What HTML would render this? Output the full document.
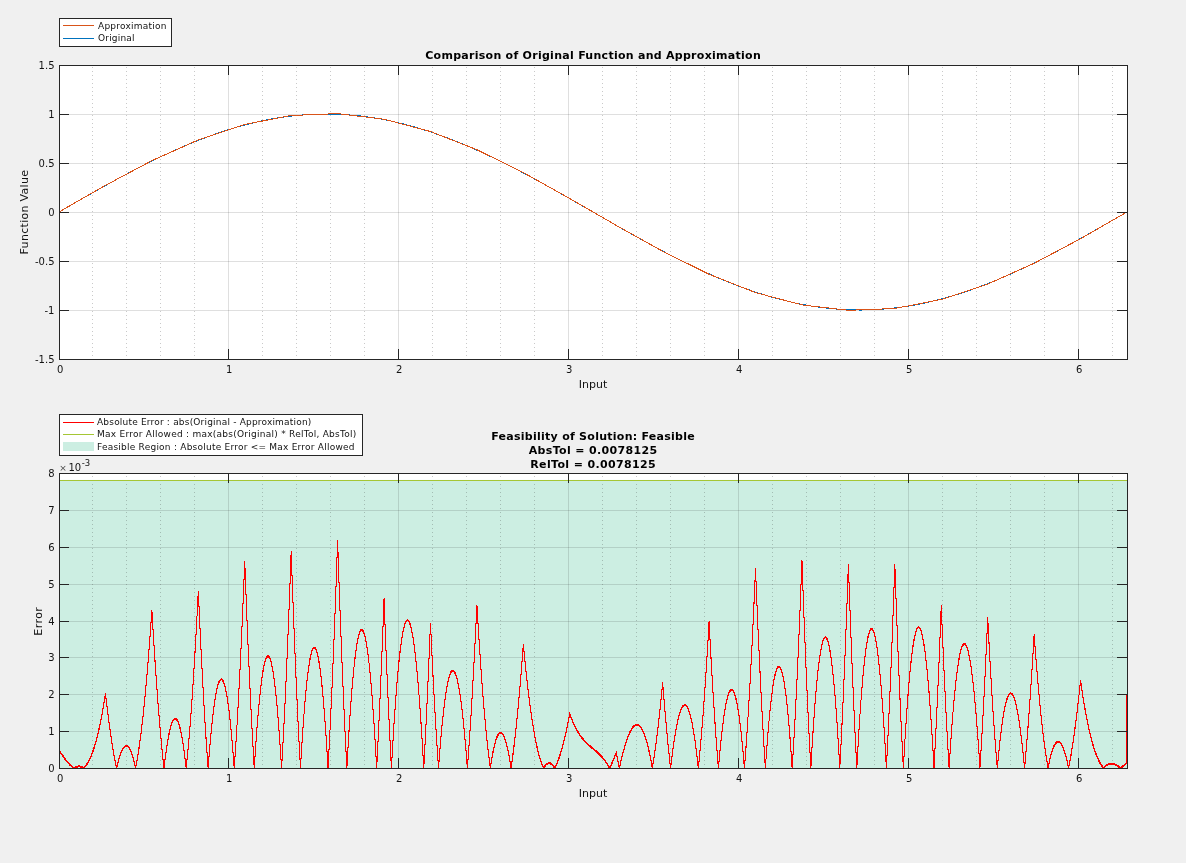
<!DOCTYPE html><html><head><meta charset="utf-8"><title>Function Approximation Comparison</title>
<style>html,body{margin:0;padding:0;background:#f0f0f0;}svg{display:block;will-change:transform;}text{font-family:'DejaVu Sans', 'Liberation Sans', sans-serif;fill:#121212;}</style></head><body>
<svg width="1186" height="863" viewBox="0 0 1186 863">
<rect x="0" y="0" width="1186" height="863" fill="#f0f0f0"/>
<rect x="59" y="65" width="1068" height="294" fill="#ffffff"/>
<g stroke="#262626" stroke-opacity="0.25" stroke-width="1" stroke-dasharray="1 3" shape-rendering="crispEdges"><line x1="92.5" y1="360" x2="92.5" y2="66"/><line x1="126.5" y1="360" x2="126.5" y2="66"/><line x1="160.5" y1="360" x2="160.5" y2="66"/><line x1="194.5" y1="360" x2="194.5" y2="66"/><line x1="262.5" y1="360" x2="262.5" y2="66"/><line x1="296.5" y1="360" x2="296.5" y2="66"/><line x1="330.5" y1="360" x2="330.5" y2="66"/><line x1="364.5" y1="360" x2="364.5" y2="66"/><line x1="432.5" y1="360" x2="432.5" y2="66"/><line x1="466.5" y1="360" x2="466.5" y2="66"/><line x1="500.5" y1="360" x2="500.5" y2="66"/><line x1="534.5" y1="360" x2="534.5" y2="66"/><line x1="602.5" y1="360" x2="602.5" y2="66"/><line x1="636.5" y1="360" x2="636.5" y2="66"/><line x1="670.5" y1="360" x2="670.5" y2="66"/><line x1="704.5" y1="360" x2="704.5" y2="66"/><line x1="772.5" y1="360" x2="772.5" y2="66"/><line x1="806.5" y1="360" x2="806.5" y2="66"/><line x1="840.5" y1="360" x2="840.5" y2="66"/><line x1="874.5" y1="360" x2="874.5" y2="66"/><line x1="942.5" y1="360" x2="942.5" y2="66"/><line x1="976.5" y1="360" x2="976.5" y2="66"/><line x1="1010.5" y1="360" x2="1010.5" y2="66"/><line x1="1044.5" y1="360" x2="1044.5" y2="66"/><line x1="1112.5" y1="360" x2="1112.5" y2="66"/></g>
<g stroke="#262626" stroke-opacity="0.15" stroke-width="1" shape-rendering="crispEdges"><line x1="228.5" y1="66" x2="228.5" y2="359"/><line x1="398.5" y1="66" x2="398.5" y2="359"/><line x1="568.5" y1="66" x2="568.5" y2="359"/><line x1="738.5" y1="66" x2="738.5" y2="359"/><line x1="908.5" y1="66" x2="908.5" y2="359"/><line x1="1078.5" y1="66" x2="1078.5" y2="359"/><line x1="60" y1="114.5" x2="1127" y2="114.5"/><line x1="60" y1="163.5" x2="1127" y2="163.5"/><line x1="60" y1="212.5" x2="1127" y2="212.5"/><line x1="60" y1="261.5" x2="1127" y2="261.5"/><line x1="60" y1="310.5" x2="1127" y2="310.5"/></g>
<polyline fill="none" stroke="#0072BD" stroke-width="1" shape-rendering="crispEdges" points="59.00,212.00 59.76,211.56 60.53,211.12 61.29,210.68 62.05,210.24 62.81,209.80 63.58,209.36 64.34,208.92 65.10,208.48 65.87,208.04 66.63,207.60 67.39,207.16 68.15,206.72 68.92,206.29 69.68,205.85 70.44,205.41 71.21,204.97 71.97,204.53 72.73,204.09 73.49,203.65 74.26,203.22 75.02,202.78 75.78,202.34 76.55,201.90 77.31,201.46 78.07,201.03 78.83,200.59 79.60,200.15 80.36,199.72 81.12,199.28 81.89,198.85 82.65,198.41 83.41,197.97 84.17,197.54 84.94,197.10 85.70,196.67 86.46,196.24 87.23,195.80 87.99,195.37 88.75,194.93 89.51,194.50 90.28,194.07 91.04,193.64 91.80,193.20 92.57,192.77 93.33,192.34 94.09,191.91 94.85,191.48 95.62,191.05 96.38,190.62 97.14,190.19 97.91,189.76 98.67,189.34 99.43,188.91 100.19,188.48 100.96,188.05 101.72,187.63 102.48,187.20 103.25,186.78 104.01,186.35 104.77,185.93 105.53,185.50 106.30,185.08 107.06,184.66 107.82,184.24 108.59,183.82 109.35,183.39 110.11,182.97 110.87,182.55 111.64,182.13 112.40,181.72 113.16,181.30 113.93,180.88 114.69,180.46 115.45,180.05 116.21,179.63 116.98,179.22 117.74,178.80 118.50,178.39 119.27,177.98 120.03,177.57 120.79,177.15 121.55,176.74 122.32,176.33 123.08,175.92 123.84,175.52 124.61,175.11 125.37,174.70 126.13,174.29 126.89,173.89 127.66,173.48 128.42,173.08 129.18,172.68 129.95,172.27 130.71,171.87 131.47,171.47 132.23,171.07 133.00,170.67 133.76,170.27 134.52,169.88 135.29,169.48 136.05,169.08 136.81,168.69 137.57,168.29 138.34,167.90 139.10,167.51 139.86,167.12 140.63,166.73 141.39,166.34 142.15,165.95 142.91,165.56 143.68,165.17 144.44,164.79 145.20,164.40 145.97,164.02 146.73,163.64 147.49,163.25 148.25,162.87 149.02,162.49 149.78,162.11 150.54,161.74 151.31,161.36 152.07,160.98 152.83,160.61 153.59,160.23 154.36,159.86 155.12,159.49 155.88,159.12 156.65,158.75 157.41,158.38 158.17,158.01 158.93,157.65 159.70,157.28 160.46,156.92 161.22,156.55 161.99,156.19 162.75,155.83 163.51,155.47 164.27,155.11 165.04,154.75 165.80,154.40 166.56,154.04 167.33,153.69 168.09,153.33 168.85,152.98 169.61,152.63 170.38,152.28 171.14,151.94 171.90,151.59 172.67,151.24 173.43,150.90 174.19,150.55 174.95,150.21 175.72,149.87 176.48,149.53 177.24,149.19 178.01,148.86 178.77,148.52 179.53,148.19 180.29,147.85 181.06,147.52 181.82,147.19 182.58,146.86 183.35,146.53 184.11,146.21 184.87,145.88 185.63,145.56 186.40,145.24 187.16,144.91 187.92,144.59 188.69,144.28 189.45,143.96 190.21,143.64 190.97,143.33 191.74,143.02 192.50,142.70 193.26,142.39 194.03,142.08 194.79,141.78 195.55,141.47 196.31,141.17 197.08,140.86 197.84,140.56 198.60,140.26 199.37,139.96 200.13,139.66 200.89,139.37 201.65,139.07 202.42,138.78 203.18,138.49 203.94,138.20 204.71,137.91 205.47,137.62 206.23,137.34 206.99,137.05 207.76,136.77 208.52,136.49 209.28,136.21 210.05,135.93 210.81,135.66 211.57,135.38 212.33,135.11 213.10,134.84 213.86,134.56 214.62,134.30 215.39,134.03 216.15,133.76 216.91,133.50 217.67,133.24 218.44,132.98 219.20,132.72 219.96,132.46 220.73,132.20 221.49,131.95 222.25,131.70 223.01,131.44 223.78,131.19 224.54,130.95 225.30,130.70 226.07,130.45 226.83,130.21 227.59,129.97 228.35,129.73 229.12,129.49 229.88,129.26 230.64,129.02 231.41,128.79 232.17,128.56 232.93,128.33 233.69,128.10 234.46,127.87 235.22,127.65 235.98,127.42 236.75,127.20 237.51,126.98 238.27,126.77 239.03,126.55 239.80,126.33 240.56,126.12 241.32,125.91 242.09,125.70 242.85,125.49 243.61,125.29 244.37,125.08 245.14,124.88 245.90,124.68 246.66,124.48 247.43,124.29 248.19,124.09 248.95,123.90 249.71,123.71 250.48,123.52 251.24,123.33 252.00,123.14 252.77,122.96 253.53,122.77 254.29,122.59 255.05,122.41 255.82,122.24 256.58,122.06 257.34,121.89 258.11,121.71 258.87,121.54 259.63,121.38 260.39,121.21 261.16,121.04 261.92,120.88 262.68,120.72 263.45,120.56 264.21,120.40 264.97,120.25 265.73,120.10 266.50,119.94 267.26,119.79 268.02,119.65 268.79,119.50 269.55,119.36 270.31,119.21 271.07,119.07 271.84,118.93 272.60,118.80 273.36,118.66 274.13,118.53 274.89,118.40 275.65,118.27 276.41,118.14 277.18,118.01 277.94,117.89 278.70,117.77 279.47,117.65 280.23,117.53 280.99,117.42 281.75,117.30 282.52,117.19 283.28,117.08 284.04,116.97 284.81,116.86 285.57,116.76 286.33,116.66 287.09,116.56 287.86,116.46 288.62,116.36 289.38,116.27 290.15,116.17 290.91,116.08 291.67,115.99 292.43,115.90 293.20,115.82 293.96,115.74 294.72,115.65 295.49,115.57 296.25,115.50 297.01,115.42 297.77,115.35 298.54,115.28 299.30,115.21 300.06,115.14 300.83,115.07 301.59,115.01 302.35,114.95 303.11,114.89 303.88,114.83 304.64,114.77 305.40,114.72 306.17,114.67 306.93,114.62 307.69,114.57 308.45,114.52 309.22,114.48 309.98,114.43 310.74,114.39 311.51,114.36 312.27,114.32 313.03,114.29 313.79,114.25 314.56,114.22 315.32,114.19 316.08,114.17 316.85,114.14 317.61,114.12 318.37,114.10 319.13,114.08 319.90,114.06 320.66,114.05 321.42,114.04 322.19,114.02 322.95,114.02 323.71,114.01 324.47,114.00 325.24,114.00 326.00,114.00 326.76,114.00 327.53,114.00 328.29,114.01 329.05,114.02 329.81,114.02 330.58,114.04 331.34,114.05 332.10,114.06 332.87,114.08 333.63,114.10 334.39,114.12 335.15,114.14 335.92,114.17 336.68,114.19 337.44,114.22 338.21,114.25 338.97,114.29 339.73,114.32 340.49,114.36 341.26,114.39 342.02,114.43 342.78,114.48 343.55,114.52 344.31,114.57 345.07,114.62 345.83,114.67 346.60,114.72 347.36,114.77 348.12,114.83 348.89,114.89 349.65,114.95 350.41,115.01 351.17,115.07 351.94,115.14 352.70,115.21 353.46,115.28 354.23,115.35 354.99,115.42 355.75,115.50 356.51,115.57 357.28,115.65 358.04,115.74 358.80,115.82 359.57,115.90 360.33,115.99 361.09,116.08 361.85,116.17 362.62,116.27 363.38,116.36 364.14,116.46 364.91,116.56 365.67,116.66 366.43,116.76 367.19,116.86 367.96,116.97 368.72,117.08 369.48,117.19 370.25,117.30 371.01,117.42 371.77,117.53 372.53,117.65 373.30,117.77 374.06,117.89 374.82,118.01 375.59,118.14 376.35,118.27 377.11,118.40 377.87,118.53 378.64,118.66 379.40,118.80 380.16,118.93 380.93,119.07 381.69,119.21 382.45,119.36 383.21,119.50 383.98,119.65 384.74,119.79 385.50,119.94 386.27,120.10 387.03,120.25 387.79,120.40 388.55,120.56 389.32,120.72 390.08,120.88 390.84,121.04 391.61,121.21 392.37,121.38 393.13,121.54 393.89,121.71 394.66,121.89 395.42,122.06 396.18,122.24 396.95,122.41 397.71,122.59 398.47,122.77 399.23,122.96 400.00,123.14 400.76,123.33 401.52,123.52 402.29,123.71 403.05,123.90 403.81,124.09 404.57,124.29 405.34,124.48 406.10,124.68 406.86,124.88 407.63,125.08 408.39,125.29 409.15,125.49 409.91,125.70 410.68,125.91 411.44,126.12 412.20,126.33 412.97,126.55 413.73,126.77 414.49,126.98 415.25,127.20 416.02,127.42 416.78,127.65 417.54,127.87 418.31,128.10 419.07,128.33 419.83,128.56 420.59,128.79 421.36,129.02 422.12,129.26 422.88,129.49 423.65,129.73 424.41,129.97 425.17,130.21 425.93,130.45 426.70,130.70 427.46,130.95 428.22,131.19 428.99,131.44 429.75,131.70 430.51,131.95 431.27,132.20 432.04,132.46 432.80,132.72 433.56,132.98 434.33,133.24 435.09,133.50 435.85,133.76 436.61,134.03 437.38,134.30 438.14,134.56 438.90,134.84 439.67,135.11 440.43,135.38 441.19,135.66 441.95,135.93 442.72,136.21 443.48,136.49 444.24,136.77 445.01,137.05 445.77,137.34 446.53,137.62 447.29,137.91 448.06,138.20 448.82,138.49 449.58,138.78 450.35,139.07 451.11,139.37 451.87,139.66 452.63,139.96 453.40,140.26 454.16,140.56 454.92,140.86 455.69,141.17 456.45,141.47 457.21,141.78 457.97,142.08 458.74,142.39 459.50,142.70 460.26,143.02 461.03,143.33 461.79,143.64 462.55,143.96 463.31,144.28 464.08,144.59 464.84,144.91 465.60,145.24 466.37,145.56 467.13,145.88 467.89,146.21 468.65,146.53 469.42,146.86 470.18,147.19 470.94,147.52 471.71,147.85 472.47,148.19 473.23,148.52 473.99,148.86 474.76,149.19 475.52,149.53 476.28,149.87 477.05,150.21 477.81,150.55 478.57,150.90 479.33,151.24 480.10,151.59 480.86,151.94 481.62,152.28 482.39,152.63 483.15,152.98 483.91,153.33 484.67,153.69 485.44,154.04 486.20,154.40 486.96,154.75 487.73,155.11 488.49,155.47 489.25,155.83 490.01,156.19 490.78,156.55 491.54,156.92 492.30,157.28 493.07,157.65 493.83,158.01 494.59,158.38 495.35,158.75 496.12,159.12 496.88,159.49 497.64,159.86 498.41,160.23 499.17,160.61 499.93,160.98 500.69,161.36 501.46,161.74 502.22,162.11 502.98,162.49 503.75,162.87 504.51,163.25 505.27,163.64 506.03,164.02 506.80,164.40 507.56,164.79 508.32,165.17 509.09,165.56 509.85,165.95 510.61,166.34 511.37,166.73 512.14,167.12 512.90,167.51 513.66,167.90 514.43,168.29 515.19,168.69 515.95,169.08 516.71,169.48 517.48,169.88 518.24,170.27 519.00,170.67 519.77,171.07 520.53,171.47 521.29,171.87 522.05,172.27 522.82,172.68 523.58,173.08 524.34,173.48 525.11,173.89 525.87,174.29 526.63,174.70 527.39,175.11 528.16,175.52 528.92,175.92 529.68,176.33 530.45,176.74 531.21,177.15 531.97,177.57 532.73,177.98 533.50,178.39 534.26,178.80 535.02,179.22 535.79,179.63 536.55,180.05 537.31,180.46 538.07,180.88 538.84,181.30 539.60,181.72 540.36,182.13 541.13,182.55 541.89,182.97 542.65,183.39 543.41,183.82 544.18,184.24 544.94,184.66 545.70,185.08 546.47,185.50 547.23,185.93 547.99,186.35 548.75,186.78 549.52,187.20 550.28,187.63 551.04,188.05 551.81,188.48 552.57,188.91 553.33,189.34 554.09,189.76 554.86,190.19 555.62,190.62 556.38,191.05 557.15,191.48 557.91,191.91 558.67,192.34 559.43,192.77 560.20,193.20 560.96,193.64 561.72,194.07 562.49,194.50 563.25,194.93 564.01,195.37 564.77,195.80 565.54,196.24 566.30,196.67 567.06,197.10 567.83,197.54 568.59,197.97 569.35,198.41 570.11,198.85 570.88,199.28 571.64,199.72 572.40,200.15 573.17,200.59 573.93,201.03 574.69,201.46 575.45,201.90 576.22,202.34 576.98,202.78 577.74,203.22 578.51,203.65 579.27,204.09 580.03,204.53 580.79,204.97 581.56,205.41 582.32,205.85 583.08,206.29 583.85,206.72 584.61,207.16 585.37,207.60 586.13,208.04 586.90,208.48 587.66,208.92 588.42,209.36 589.19,209.80 589.95,210.24 590.71,210.68 591.47,211.12 592.24,211.56 593.00,212.00 593.76,212.44 594.53,212.88 595.29,213.32 596.05,213.76 596.81,214.20 597.58,214.64 598.34,215.08 599.10,215.52 599.87,215.96 600.63,216.40 601.39,216.84 602.15,217.28 602.92,217.71 603.68,218.15 604.44,218.59 605.21,219.03 605.97,219.47 606.73,219.91 607.49,220.35 608.26,220.78 609.02,221.22 609.78,221.66 610.55,222.10 611.31,222.54 612.07,222.97 612.83,223.41 613.60,223.85 614.36,224.28 615.12,224.72 615.89,225.15 616.65,225.59 617.41,226.03 618.17,226.46 618.94,226.90 619.70,227.33 620.46,227.76 621.23,228.20 621.99,228.63 622.75,229.07 623.51,229.50 624.28,229.93 625.04,230.36 625.80,230.80 626.57,231.23 627.33,231.66 628.09,232.09 628.85,232.52 629.62,232.95 630.38,233.38 631.14,233.81 631.91,234.24 632.67,234.66 633.43,235.09 634.19,235.52 634.96,235.95 635.72,236.37 636.48,236.80 637.25,237.22 638.01,237.65 638.77,238.07 639.53,238.50 640.30,238.92 641.06,239.34 641.82,239.76 642.59,240.18 643.35,240.61 644.11,241.03 644.87,241.45 645.64,241.87 646.40,242.28 647.16,242.70 647.93,243.12 648.69,243.54 649.45,243.95 650.21,244.37 650.98,244.78 651.74,245.20 652.50,245.61 653.27,246.02 654.03,246.43 654.79,246.85 655.55,247.26 656.32,247.67 657.08,248.08 657.84,248.48 658.61,248.89 659.37,249.30 660.13,249.71 660.89,250.11 661.66,250.52 662.42,250.92 663.18,251.32 663.95,251.73 664.71,252.13 665.47,252.53 666.23,252.93 667.00,253.33 667.76,253.73 668.52,254.12 669.29,254.52 670.05,254.92 670.81,255.31 671.57,255.71 672.34,256.10 673.10,256.49 673.86,256.88 674.63,257.27 675.39,257.66 676.15,258.05 676.91,258.44 677.68,258.83 678.44,259.21 679.20,259.60 679.97,259.98 680.73,260.36 681.49,260.75 682.25,261.13 683.02,261.51 683.78,261.89 684.54,262.26 685.31,262.64 686.07,263.02 686.83,263.39 687.59,263.77 688.36,264.14 689.12,264.51 689.88,264.88 690.65,265.25 691.41,265.62 692.17,265.99 692.93,266.35 693.70,266.72 694.46,267.08 695.22,267.45 695.99,267.81 696.75,268.17 697.51,268.53 698.27,268.89 699.04,269.25 699.80,269.60 700.56,269.96 701.33,270.31 702.09,270.67 702.85,271.02 703.61,271.37 704.38,271.72 705.14,272.06 705.90,272.41 706.67,272.76 707.43,273.10 708.19,273.45 708.95,273.79 709.72,274.13 710.48,274.47 711.24,274.81 712.01,275.14 712.77,275.48 713.53,275.81 714.29,276.15 715.06,276.48 715.82,276.81 716.58,277.14 717.35,277.47 718.11,277.79 718.87,278.12 719.63,278.44 720.40,278.76 721.16,279.09 721.92,279.41 722.69,279.72 723.45,280.04 724.21,280.36 724.97,280.67 725.74,280.98 726.50,281.30 727.26,281.61 728.03,281.92 728.79,282.22 729.55,282.53 730.31,282.83 731.08,283.14 731.84,283.44 732.60,283.74 733.37,284.04 734.13,284.34 734.89,284.63 735.65,284.93 736.42,285.22 737.18,285.51 737.94,285.80 738.71,286.09 739.47,286.38 740.23,286.66 740.99,286.95 741.76,287.23 742.52,287.51 743.28,287.79 744.05,288.07 744.81,288.34 745.57,288.62 746.33,288.89 747.10,289.16 747.86,289.44 748.62,289.70 749.39,289.97 750.15,290.24 750.91,290.50 751.67,290.76 752.44,291.02 753.20,291.28 753.96,291.54 754.73,291.80 755.49,292.05 756.25,292.30 757.01,292.56 757.78,292.81 758.54,293.05 759.30,293.30 760.07,293.55 760.83,293.79 761.59,294.03 762.35,294.27 763.12,294.51 763.88,294.74 764.64,294.98 765.41,295.21 766.17,295.44 766.93,295.67 767.69,295.90 768.46,296.13 769.22,296.35 769.98,296.58 770.75,296.80 771.51,297.02 772.27,297.23 773.03,297.45 773.80,297.67 774.56,297.88 775.32,298.09 776.09,298.30 776.85,298.51 777.61,298.71 778.37,298.92 779.14,299.12 779.90,299.32 780.66,299.52 781.43,299.71 782.19,299.91 782.95,300.10 783.71,300.29 784.48,300.48 785.24,300.67 786.00,300.86 786.77,301.04 787.53,301.23 788.29,301.41 789.05,301.59 789.82,301.76 790.58,301.94 791.34,302.11 792.11,302.29 792.87,302.46 793.63,302.62 794.39,302.79 795.16,302.96 795.92,303.12 796.68,303.28 797.45,303.44 798.21,303.60 798.97,303.75 799.73,303.90 800.50,304.06 801.26,304.21 802.02,304.35 802.79,304.50 803.55,304.64 804.31,304.79 805.07,304.93 805.84,305.07 806.60,305.20 807.36,305.34 808.13,305.47 808.89,305.60 809.65,305.73 810.41,305.86 811.18,305.99 811.94,306.11 812.70,306.23 813.47,306.35 814.23,306.47 814.99,306.58 815.75,306.70 816.52,306.81 817.28,306.92 818.04,307.03 818.81,307.14 819.57,307.24 820.33,307.34 821.09,307.44 821.86,307.54 822.62,307.64 823.38,307.73 824.15,307.83 824.91,307.92 825.67,308.01 826.43,308.10 827.20,308.18 827.96,308.26 828.72,308.35 829.49,308.43 830.25,308.50 831.01,308.58 831.77,308.65 832.54,308.72 833.30,308.79 834.06,308.86 834.83,308.93 835.59,308.99 836.35,309.05 837.11,309.11 837.88,309.17 838.64,309.23 839.40,309.28 840.17,309.33 840.93,309.38 841.69,309.43 842.45,309.48 843.22,309.52 843.98,309.57 844.74,309.61 845.51,309.64 846.27,309.68 847.03,309.71 847.79,309.75 848.56,309.78 849.32,309.81 850.08,309.83 850.85,309.86 851.61,309.88 852.37,309.90 853.13,309.92 853.90,309.94 854.66,309.95 855.42,309.96 856.19,309.98 856.95,309.98 857.71,309.99 858.47,310.00 859.24,310.00 860.00,310.00 860.76,310.00 861.53,310.00 862.29,309.99 863.05,309.98 863.81,309.98 864.58,309.96 865.34,309.95 866.10,309.94 866.87,309.92 867.63,309.90 868.39,309.88 869.15,309.86 869.92,309.83 870.68,309.81 871.44,309.78 872.21,309.75 872.97,309.71 873.73,309.68 874.49,309.64 875.26,309.61 876.02,309.57 876.78,309.52 877.55,309.48 878.31,309.43 879.07,309.38 879.83,309.33 880.60,309.28 881.36,309.23 882.12,309.17 882.89,309.11 883.65,309.05 884.41,308.99 885.17,308.93 885.94,308.86 886.70,308.79 887.46,308.72 888.23,308.65 888.99,308.58 889.75,308.50 890.51,308.43 891.28,308.35 892.04,308.26 892.80,308.18 893.57,308.10 894.33,308.01 895.09,307.92 895.85,307.83 896.62,307.73 897.38,307.64 898.14,307.54 898.91,307.44 899.67,307.34 900.43,307.24 901.19,307.14 901.96,307.03 902.72,306.92 903.48,306.81 904.25,306.70 905.01,306.58 905.77,306.47 906.53,306.35 907.30,306.23 908.06,306.11 908.82,305.99 909.59,305.86 910.35,305.73 911.11,305.60 911.87,305.47 912.64,305.34 913.40,305.20 914.16,305.07 914.93,304.93 915.69,304.79 916.45,304.64 917.21,304.50 917.98,304.35 918.74,304.21 919.50,304.06 920.27,303.90 921.03,303.75 921.79,303.60 922.55,303.44 923.32,303.28 924.08,303.12 924.84,302.96 925.61,302.79 926.37,302.62 927.13,302.46 927.89,302.29 928.66,302.11 929.42,301.94 930.18,301.76 930.95,301.59 931.71,301.41 932.47,301.23 933.23,301.04 934.00,300.86 934.76,300.67 935.52,300.48 936.29,300.29 937.05,300.10 937.81,299.91 938.57,299.71 939.34,299.52 940.10,299.32 940.86,299.12 941.63,298.92 942.39,298.71 943.15,298.51 943.91,298.30 944.68,298.09 945.44,297.88 946.20,297.67 946.97,297.45 947.73,297.23 948.49,297.02 949.25,296.80 950.02,296.58 950.78,296.35 951.54,296.13 952.31,295.90 953.07,295.67 953.83,295.44 954.59,295.21 955.36,294.98 956.12,294.74 956.88,294.51 957.65,294.27 958.41,294.03 959.17,293.79 959.93,293.55 960.70,293.30 961.46,293.05 962.22,292.81 962.99,292.56 963.75,292.30 964.51,292.05 965.27,291.80 966.04,291.54 966.80,291.28 967.56,291.02 968.33,290.76 969.09,290.50 969.85,290.24 970.61,289.97 971.38,289.70 972.14,289.44 972.90,289.16 973.67,288.89 974.43,288.62 975.19,288.34 975.95,288.07 976.72,287.79 977.48,287.51 978.24,287.23 979.01,286.95 979.77,286.66 980.53,286.38 981.29,286.09 982.06,285.80 982.82,285.51 983.58,285.22 984.35,284.93 985.11,284.63 985.87,284.34 986.63,284.04 987.40,283.74 988.16,283.44 988.92,283.14 989.69,282.83 990.45,282.53 991.21,282.22 991.97,281.92 992.74,281.61 993.50,281.30 994.26,280.98 995.03,280.67 995.79,280.36 996.55,280.04 997.31,279.72 998.08,279.41 998.84,279.09 999.60,278.76 1000.37,278.44 1001.13,278.12 1001.89,277.79 1002.65,277.47 1003.42,277.14 1004.18,276.81 1004.94,276.48 1005.71,276.15 1006.47,275.81 1007.23,275.48 1007.99,275.14 1008.76,274.81 1009.52,274.47 1010.28,274.13 1011.05,273.79 1011.81,273.45 1012.57,273.10 1013.33,272.76 1014.10,272.41 1014.86,272.06 1015.62,271.72 1016.39,271.37 1017.15,271.02 1017.91,270.67 1018.67,270.31 1019.44,269.96 1020.20,269.60 1020.96,269.25 1021.73,268.89 1022.49,268.53 1023.25,268.17 1024.01,267.81 1024.78,267.45 1025.54,267.08 1026.30,266.72 1027.07,266.35 1027.83,265.99 1028.59,265.62 1029.35,265.25 1030.12,264.88 1030.88,264.51 1031.64,264.14 1032.41,263.77 1033.17,263.39 1033.93,263.02 1034.69,262.64 1035.46,262.26 1036.22,261.89 1036.98,261.51 1037.75,261.13 1038.51,260.75 1039.27,260.36 1040.03,259.98 1040.80,259.60 1041.56,259.21 1042.32,258.83 1043.09,258.44 1043.85,258.05 1044.61,257.66 1045.37,257.27 1046.14,256.88 1046.90,256.49 1047.66,256.10 1048.43,255.71 1049.19,255.31 1049.95,254.92 1050.71,254.52 1051.48,254.12 1052.24,253.73 1053.00,253.33 1053.77,252.93 1054.53,252.53 1055.29,252.13 1056.05,251.73 1056.82,251.32 1057.58,250.92 1058.34,250.52 1059.11,250.11 1059.87,249.71 1060.63,249.30 1061.39,248.89 1062.16,248.48 1062.92,248.08 1063.68,247.67 1064.45,247.26 1065.21,246.85 1065.97,246.43 1066.73,246.02 1067.50,245.61 1068.26,245.20 1069.02,244.78 1069.79,244.37 1070.55,243.95 1071.31,243.54 1072.07,243.12 1072.84,242.70 1073.60,242.28 1074.36,241.87 1075.13,241.45 1075.89,241.03 1076.65,240.61 1077.41,240.18 1078.18,239.76 1078.94,239.34 1079.70,238.92 1080.47,238.50 1081.23,238.07 1081.99,237.65 1082.75,237.22 1083.52,236.80 1084.28,236.37 1085.04,235.95 1085.81,235.52 1086.57,235.09 1087.33,234.66 1088.09,234.24 1088.86,233.81 1089.62,233.38 1090.38,232.95 1091.15,232.52 1091.91,232.09 1092.67,231.66 1093.43,231.23 1094.20,230.80 1094.96,230.36 1095.72,229.93 1096.49,229.50 1097.25,229.07 1098.01,228.63 1098.77,228.20 1099.54,227.76 1100.30,227.33 1101.06,226.90 1101.83,226.46 1102.59,226.03 1103.35,225.59 1104.11,225.15 1104.88,224.72 1105.64,224.28 1106.40,223.85 1107.17,223.41 1107.93,222.97 1108.69,222.54 1109.45,222.10 1110.22,221.66 1110.98,221.22 1111.74,220.78 1112.51,220.35 1113.27,219.91 1114.03,219.47 1114.79,219.03 1115.56,218.59 1116.32,218.15 1117.08,217.71 1117.85,217.28 1118.61,216.84 1119.37,216.40 1120.13,215.96 1120.90,215.52 1121.66,215.08 1122.42,214.64 1123.19,214.20 1123.95,213.76 1124.71,213.32 1125.47,212.88 1126.24,212.44 1127.00,212.00"/>
<polyline fill="none" stroke="#D95319" stroke-width="1" shape-rendering="crispEdges" points="59.00,211.95 59.76,211.52 60.53,211.08 61.29,210.64 62.05,210.21 62.81,209.77 63.58,209.33 64.34,208.89 65.10,208.46 65.87,208.02 66.63,207.58 67.39,207.15 68.15,206.71 68.92,206.27 69.68,205.84 70.44,205.40 71.21,204.96 71.97,204.53 72.73,204.09 73.49,203.65 74.26,203.22 75.02,202.78 75.78,202.34 76.55,201.91 77.31,201.47 78.07,201.03 78.83,200.59 79.60,200.16 80.36,199.72 81.12,199.28 81.89,198.85 82.65,198.41 83.41,197.97 84.17,197.54 84.94,197.10 85.70,196.66 86.46,196.23 87.23,195.79 87.99,195.35 88.75,194.92 89.51,194.48 90.28,194.04 91.04,193.61 91.80,193.17 92.57,192.73 93.33,192.29 94.09,191.86 94.85,191.42 95.62,190.98 96.38,190.55 97.14,190.11 97.91,189.67 98.67,189.24 99.43,188.80 100.19,188.36 100.96,187.93 101.72,187.49 102.48,187.05 103.25,186.62 104.01,186.18 104.77,185.74 105.53,185.31 106.30,184.90 107.06,184.50 107.82,184.09 108.59,183.69 109.35,183.28 110.11,182.87 110.87,182.47 111.64,182.06 112.40,181.66 113.16,181.25 113.93,180.85 114.69,180.44 115.45,180.03 116.21,179.63 116.98,179.22 117.74,178.82 118.50,178.41 119.27,178.00 120.03,177.60 120.79,177.19 121.55,176.79 122.32,176.38 123.08,175.98 123.84,175.57 124.61,175.16 125.37,174.76 126.13,174.35 126.89,173.95 127.66,173.54 128.42,173.14 129.18,172.73 129.95,172.32 130.71,171.92 131.47,171.51 132.23,171.11 133.00,170.70 133.76,170.29 134.52,169.89 135.29,169.48 136.05,169.08 136.81,168.67 137.57,168.27 138.34,167.86 139.10,167.45 139.86,167.05 140.63,166.64 141.39,166.24 142.15,165.83 142.91,165.43 143.68,165.02 144.44,164.61 145.20,164.21 145.97,163.80 146.73,163.40 147.49,162.99 148.25,162.58 149.02,162.18 149.78,161.77 150.54,161.37 151.31,160.96 152.07,160.57 152.83,160.23 153.59,159.89 154.36,159.55 155.12,159.21 155.88,158.87 156.65,158.53 157.41,158.19 158.17,157.84 158.93,157.50 159.70,157.16 160.46,156.82 161.22,156.48 161.99,156.14 162.75,155.80 163.51,155.46 164.27,155.12 165.04,154.78 165.80,154.44 166.56,154.09 167.33,153.75 168.09,153.41 168.85,153.07 169.61,152.73 170.38,152.39 171.14,152.05 171.90,151.71 172.67,151.37 173.43,151.03 174.19,150.68 174.95,150.34 175.72,150.00 176.48,149.66 177.24,149.32 178.01,148.98 178.77,148.64 179.53,148.30 180.29,147.96 181.06,147.62 181.82,147.28 182.58,146.93 183.35,146.59 184.11,146.25 184.87,145.91 185.63,145.57 186.40,145.23 187.16,144.89 187.92,144.55 188.69,144.21 189.45,143.87 190.21,143.52 190.97,143.18 191.74,142.84 192.50,142.50 193.26,142.16 194.03,141.82 194.79,141.48 195.55,141.14 196.31,140.80 197.08,140.46 197.84,140.12 198.60,139.81 199.37,139.55 200.13,139.30 200.89,139.05 201.65,138.79 202.42,138.54 203.18,138.28 203.94,138.03 204.71,137.77 205.47,137.52 206.23,137.27 206.99,137.01 207.76,136.76 208.52,136.50 209.28,136.25 210.05,136.00 210.81,135.74 211.57,135.49 212.33,135.23 213.10,134.98 213.86,134.73 214.62,134.47 215.39,134.22 216.15,133.96 216.91,133.71 217.67,133.45 218.44,133.20 219.20,132.95 219.96,132.69 220.73,132.44 221.49,132.18 222.25,131.93 223.01,131.68 223.78,131.42 224.54,131.17 225.30,130.91 226.07,130.66 226.83,130.40 227.59,130.15 228.35,129.90 229.12,129.64 229.88,129.39 230.64,129.13 231.41,128.88 232.17,128.63 232.93,128.37 233.69,128.12 234.46,127.86 235.22,127.61 235.98,127.35 236.75,127.10 237.51,126.85 238.27,126.59 239.03,126.34 239.80,126.08 240.56,125.83 241.32,125.58 242.09,125.32 242.85,125.07 243.61,124.81 244.37,124.56 245.14,124.36 245.90,124.21 246.66,124.07 247.43,123.92 248.19,123.77 248.95,123.62 249.71,123.48 250.48,123.33 251.24,123.18 252.00,123.04 252.77,122.89 253.53,122.74 254.29,122.59 255.05,122.45 255.82,122.30 256.58,122.15 257.34,122.00 258.11,121.86 258.87,121.71 259.63,121.56 260.39,121.42 261.16,121.27 261.92,121.12 262.68,120.97 263.45,120.83 264.21,120.68 264.97,120.53 265.73,120.38 266.50,120.24 267.26,120.09 268.02,119.94 268.79,119.80 269.55,119.65 270.31,119.50 271.07,119.35 271.84,119.21 272.60,119.06 273.36,118.91 274.13,118.76 274.89,118.62 275.65,118.47 276.41,118.32 277.18,118.18 277.94,118.03 278.70,117.88 279.47,117.73 280.23,117.59 280.99,117.44 281.75,117.29 282.52,117.14 283.28,117.00 284.04,116.85 284.81,116.70 285.57,116.56 286.33,116.41 287.09,116.26 287.86,116.11 288.62,115.97 289.38,115.82 290.15,115.67 290.91,115.52 291.67,115.45 292.43,115.42 293.20,115.39 293.96,115.36 294.72,115.33 295.49,115.30 296.25,115.27 297.01,115.24 297.77,115.21 298.54,115.18 299.30,115.15 300.06,115.12 300.83,115.09 301.59,115.06 302.35,115.03 303.11,115.00 303.88,114.97 304.64,114.94 305.40,114.91 306.17,114.88 306.93,114.85 307.69,114.82 308.45,114.79 309.22,114.75 309.98,114.72 310.74,114.69 311.51,114.66 312.27,114.63 313.03,114.60 313.79,114.57 314.56,114.54 315.32,114.51 316.08,114.48 316.85,114.45 317.61,114.42 318.37,114.39 319.13,114.36 319.90,114.33 320.66,114.30 321.42,114.27 322.19,114.24 322.95,114.21 323.71,114.18 324.47,114.15 325.24,114.12 326.00,114.09 326.76,114.06 327.53,114.03 328.29,114.00 329.05,113.96 329.81,113.93 330.58,113.90 331.34,113.87 332.10,113.84 332.87,113.81 333.63,113.78 334.39,113.75 335.15,113.72 335.92,113.69 336.68,113.66 337.44,113.63 338.21,113.70 338.97,113.79 339.73,113.88 340.49,113.97 341.26,114.06 342.02,114.15 342.78,114.25 343.55,114.34 344.31,114.43 345.07,114.52 345.83,114.61 346.60,114.70 347.36,114.80 348.12,114.89 348.89,114.98 349.65,115.07 350.41,115.16 351.17,115.26 351.94,115.35 352.70,115.44 353.46,115.53 354.23,115.62 354.99,115.71 355.75,115.81 356.51,115.90 357.28,115.99 358.04,116.08 358.80,116.17 359.57,116.26 360.33,116.36 361.09,116.45 361.85,116.54 362.62,116.63 363.38,116.72 364.14,116.81 364.91,116.91 365.67,117.00 366.43,117.09 367.19,117.18 367.96,117.27 368.72,117.36 369.48,117.46 370.25,117.55 371.01,117.64 371.77,117.73 372.53,117.82 373.30,117.92 374.06,118.01 374.82,118.10 375.59,118.19 376.35,118.28 377.11,118.37 377.87,118.47 378.64,118.56 379.40,118.65 380.16,118.74 380.93,118.83 381.69,118.92 382.45,119.02 383.21,119.11 383.98,119.20 384.74,119.39 385.50,119.60 386.27,119.80 387.03,120.00 387.79,120.20 388.55,120.41 389.32,120.61 390.08,120.81 390.84,121.02 391.61,121.22 392.37,121.42 393.13,121.62 393.89,121.83 394.66,122.03 395.42,122.23 396.18,122.43 396.95,122.64 397.71,122.84 398.47,123.04 399.23,123.25 400.00,123.45 400.76,123.65 401.52,123.85 402.29,124.06 403.05,124.26 403.81,124.46 404.57,124.67 405.34,124.87 406.10,125.07 406.86,125.27 407.63,125.48 408.39,125.68 409.15,125.88 409.91,126.09 410.68,126.29 411.44,126.49 412.20,126.69 412.97,126.90 413.73,127.10 414.49,127.30 415.25,127.50 416.02,127.71 416.78,127.91 417.54,128.11 418.31,128.32 419.07,128.52 419.83,128.72 420.59,128.92 421.36,129.13 422.12,129.33 422.88,129.53 423.65,129.74 424.41,129.94 425.17,130.14 425.93,130.34 426.70,130.55 427.46,130.75 428.22,130.95 428.99,131.16 429.75,131.36 430.51,131.56 431.27,131.86 432.04,132.16 432.80,132.46 433.56,132.76 434.33,133.06 435.09,133.36 435.85,133.65 436.61,133.95 437.38,134.25 438.14,134.55 438.90,134.85 439.67,135.15 440.43,135.45 441.19,135.74 441.95,136.04 442.72,136.34 443.48,136.64 444.24,136.94 445.01,137.24 445.77,137.53 446.53,137.83 447.29,138.13 448.06,138.43 448.82,138.73 449.58,139.03 450.35,139.33 451.11,139.62 451.87,139.92 452.63,140.22 453.40,140.52 454.16,140.82 454.92,141.12 455.69,141.41 456.45,141.71 457.21,142.01 457.97,142.31 458.74,142.61 459.50,142.91 460.26,143.21 461.03,143.50 461.79,143.80 462.55,144.10 463.31,144.40 464.08,144.70 464.84,145.00 465.60,145.29 466.37,145.59 467.13,145.89 467.89,146.19 468.65,146.49 469.42,146.79 470.18,147.09 470.94,147.38 471.71,147.68 472.47,147.98 473.23,148.28 473.99,148.58 474.76,148.88 475.52,149.18 476.28,149.47 477.05,149.79 477.81,150.16 478.57,150.54 479.33,150.91 480.10,151.29 480.86,151.67 481.62,152.04 482.39,152.42 483.15,152.80 483.91,153.17 484.67,153.55 485.44,153.93 486.20,154.30 486.96,154.68 487.73,155.05 488.49,155.43 489.25,155.81 490.01,156.18 490.78,156.56 491.54,156.94 492.30,157.31 493.07,157.69 493.83,158.07 494.59,158.44 495.35,158.82 496.12,159.19 496.88,159.57 497.64,159.95 498.41,160.32 499.17,160.70 499.93,161.08 500.69,161.45 501.46,161.83 502.22,162.21 502.98,162.58 503.75,162.96 504.51,163.33 505.27,163.71 506.03,164.09 506.80,164.46 507.56,164.84 508.32,165.22 509.09,165.59 509.85,165.97 510.61,166.35 511.37,166.72 512.14,167.10 512.90,167.47 513.66,167.85 514.43,168.23 515.19,168.60 515.95,168.98 516.71,169.36 517.48,169.73 518.24,170.11 519.00,170.48 519.77,170.86 520.53,171.24 521.29,171.61 522.05,171.99 522.82,172.37 523.58,172.76 524.34,173.18 525.11,173.61 525.87,174.03 526.63,174.46 527.39,174.88 528.16,175.31 528.92,175.73 529.68,176.16 530.45,176.58 531.21,177.01 531.97,177.44 532.73,177.86 533.50,178.29 534.26,178.71 535.02,179.14 535.79,179.56 536.55,179.99 537.31,180.41 538.07,180.84 538.84,181.26 539.60,181.69 540.36,182.11 541.13,182.54 541.89,182.96 542.65,183.39 543.41,183.81 544.18,184.24 544.94,184.66 545.70,185.09 546.47,185.51 547.23,185.94 547.99,186.36 548.75,186.79 549.52,187.22 550.28,187.64 551.04,188.07 551.81,188.49 552.57,188.92 553.33,189.34 554.09,189.77 554.86,190.19 555.62,190.62 556.38,191.04 557.15,191.47 557.91,191.89 558.67,192.32 559.43,192.74 560.20,193.17 560.96,193.59 561.72,194.02 562.49,194.44 563.25,194.87 564.01,195.29 564.77,195.72 565.54,196.15 566.30,196.57 567.06,197.00 567.83,197.42 568.59,197.85 569.35,198.27 570.11,198.70 570.88,199.15 571.64,199.59 572.40,200.03 573.17,200.47 573.93,200.91 574.69,201.35 575.45,201.79 576.22,202.24 576.98,202.68 577.74,203.12 578.51,203.56 579.27,204.00 580.03,204.44 580.79,204.88 581.56,205.33 582.32,205.77 583.08,206.21 583.85,206.65 584.61,207.09 585.37,207.53 586.13,207.98 586.90,208.42 587.66,208.86 588.42,209.30 589.19,209.74 589.95,210.18 590.71,210.62 591.47,211.07 592.24,211.51 593.00,211.95 593.76,212.39 594.53,212.83 595.29,213.27 596.05,213.71 596.81,214.16 597.58,214.60 598.34,215.04 599.10,215.48 599.87,215.92 600.63,216.36 601.39,216.81 602.15,217.25 602.92,217.69 603.68,218.13 604.44,218.57 605.21,219.01 605.97,219.45 606.73,219.90 607.49,220.34 608.26,220.78 609.02,221.22 609.78,221.66 610.55,222.10 611.31,222.54 612.07,222.99 612.83,223.43 613.60,223.87 614.36,224.31 615.12,224.75 615.89,225.19 616.65,225.63 617.41,226.05 618.17,226.48 618.94,226.90 619.70,227.33 620.46,227.75 621.23,228.18 621.99,228.60 622.75,229.03 623.51,229.45 624.28,229.88 625.04,230.30 625.80,230.73 626.57,231.15 627.33,231.58 628.09,232.00 628.85,232.43 629.62,232.86 630.38,233.28 631.14,233.71 631.91,234.13 632.67,234.56 633.43,234.98 634.19,235.41 634.96,235.83 635.72,236.26 636.48,236.68 637.25,237.11 638.01,237.53 638.77,237.96 639.53,238.38 640.30,238.81 641.06,239.23 641.82,239.66 642.59,240.08 643.35,240.51 644.11,240.94 644.87,241.36 645.64,241.79 646.40,242.21 647.16,242.64 647.93,243.06 648.69,243.49 649.45,243.91 650.21,244.34 650.98,244.76 651.74,245.19 652.50,245.61 653.27,246.04 654.03,246.46 654.79,246.89 655.55,247.31 656.32,247.74 657.08,248.16 657.84,248.59 658.61,249.01 659.37,249.44 660.13,249.87 660.89,250.29 661.66,250.72 662.42,251.14 663.18,251.53 663.95,251.91 664.71,252.29 665.47,252.66 666.23,253.04 667.00,253.42 667.76,253.80 668.52,254.17 669.29,254.55 670.05,254.93 670.81,255.31 671.57,255.68 672.34,256.06 673.10,256.44 673.86,256.82 674.63,257.19 675.39,257.57 676.15,257.95 676.91,258.32 677.68,258.70 678.44,259.08 679.20,259.46 679.97,259.83 680.73,260.21 681.49,260.59 682.25,260.97 683.02,261.34 683.78,261.72 684.54,262.10 685.31,262.47 686.07,262.85 686.83,263.23 687.59,263.61 688.36,263.98 689.12,264.36 689.88,264.74 690.65,265.12 691.41,265.49 692.17,265.87 692.93,266.25 693.70,266.62 694.46,267.00 695.22,267.38 695.99,267.76 696.75,268.13 697.51,268.51 698.27,268.89 699.04,269.27 699.80,269.64 700.56,270.02 701.33,270.40 702.09,270.77 702.85,271.15 703.61,271.53 704.38,271.91 705.14,272.28 705.90,272.66 706.67,273.04 707.43,273.42 708.19,273.79 708.95,274.17 709.72,274.48 710.48,274.79 711.24,275.09 712.01,275.39 712.77,275.69 713.53,275.99 714.29,276.29 715.06,276.60 715.82,276.90 716.58,277.20 717.35,277.50 718.11,277.80 718.87,278.10 719.63,278.41 720.40,278.71 721.16,279.01 721.92,279.31 722.69,279.61 723.45,279.91 724.21,280.21 724.97,280.52 725.74,280.82 726.50,281.12 727.26,281.42 728.03,281.72 728.79,282.02 729.55,282.33 730.31,282.63 731.08,282.93 731.84,283.23 732.60,283.53 733.37,283.83 734.13,284.14 734.89,284.44 735.65,284.74 736.42,285.04 737.18,285.34 737.94,285.64 738.71,285.95 739.47,286.25 740.23,286.55 740.99,286.85 741.76,287.15 742.52,287.45 743.28,287.75 744.05,288.06 744.81,288.36 745.57,288.66 746.33,288.96 747.10,289.26 747.86,289.56 748.62,289.87 749.39,290.17 750.15,290.47 750.91,290.77 751.67,291.07 752.44,291.37 753.20,291.68 753.96,291.98 754.73,292.28 755.49,292.58 756.25,292.79 757.01,292.99 757.78,293.19 758.54,293.39 759.30,293.59 760.07,293.80 760.83,294.00 761.59,294.20 762.35,294.40 763.12,294.61 763.88,294.81 764.64,295.01 765.41,295.21 766.17,295.41 766.93,295.62 767.69,295.82 768.46,296.02 769.22,296.22 769.98,296.42 770.75,296.63 771.51,296.83 772.27,297.03 773.03,297.23 773.80,297.43 774.56,297.64 775.32,297.84 776.09,298.04 776.85,298.24 777.61,298.44 778.37,298.65 779.14,298.85 779.90,299.05 780.66,299.25 781.43,299.45 782.19,299.66 782.95,299.86 783.71,300.06 784.48,300.26 785.24,300.47 786.00,300.67 786.77,300.87 787.53,301.07 788.29,301.27 789.05,301.48 789.82,301.68 790.58,301.88 791.34,302.08 792.11,302.28 792.87,302.49 793.63,302.69 794.39,302.89 795.16,303.09 795.92,303.29 796.68,303.50 797.45,303.70 798.21,303.90 798.97,304.10 799.73,304.30 800.50,304.51 801.26,304.71 802.02,304.90 802.79,304.99 803.55,305.08 804.31,305.17 805.07,305.26 805.84,305.35 806.60,305.44 807.36,305.52 808.13,305.61 808.89,305.70 809.65,305.79 810.41,305.88 811.18,305.97 811.94,306.06 812.70,306.15 813.47,306.24 814.23,306.33 814.99,306.41 815.75,306.50 816.52,306.59 817.28,306.68 818.04,306.77 818.81,306.86 819.57,306.95 820.33,307.04 821.09,307.13 821.86,307.22 822.62,307.30 823.38,307.39 824.15,307.48 824.91,307.57 825.67,307.66 826.43,307.75 827.20,307.84 827.96,307.93 828.72,308.02 829.49,308.11 830.25,308.20 831.01,308.28 831.77,308.37 832.54,308.46 833.30,308.55 834.06,308.64 834.83,308.73 835.59,308.82 836.35,308.91 837.11,309.00 837.88,309.09 838.64,309.17 839.40,309.26 840.17,309.35 840.93,309.44 841.69,309.53 842.45,309.62 843.22,309.71 843.98,309.80 844.74,309.89 845.51,309.98 846.27,310.06 847.03,310.15 847.79,310.24 848.56,310.31 849.32,310.28 850.08,310.25 850.85,310.22 851.61,310.19 852.37,310.16 853.13,310.13 853.90,310.10 854.66,310.07 855.42,310.04 856.19,310.01 856.95,309.98 857.71,309.95 858.47,309.92 859.24,309.89 860.00,309.86 860.76,309.83 861.53,309.80 862.29,309.77 863.05,309.74 863.81,309.71 864.58,309.68 865.34,309.65 866.10,309.62 866.87,309.59 867.63,309.56 868.39,309.53 869.15,309.50 869.92,309.47 870.68,309.44 871.44,309.41 872.21,309.38 872.97,309.35 873.73,309.32 874.49,309.29 875.26,309.26 876.02,309.23 876.78,309.20 877.55,309.17 878.31,309.14 879.07,309.11 879.83,309.08 880.60,309.05 881.36,309.02 882.12,308.99 882.89,308.96 883.65,308.93 884.41,308.90 885.17,308.87 885.94,308.84 886.70,308.81 887.46,308.78 888.23,308.75 888.99,308.72 889.75,308.69 890.51,308.66 891.28,308.63 892.04,308.60 892.80,308.57 893.57,308.54 894.33,308.51 895.09,308.44 895.85,308.29 896.62,308.14 897.38,307.99 898.14,307.85 898.91,307.70 899.67,307.55 900.43,307.40 901.19,307.25 901.96,307.10 902.72,306.95 903.48,306.80 904.25,306.66 905.01,306.51 905.77,306.36 906.53,306.21 907.30,306.06 908.06,305.91 908.82,305.76 909.59,305.62 910.35,305.47 911.11,305.32 911.87,305.17 912.64,305.02 913.40,304.87 914.16,304.72 914.93,304.58 915.69,304.43 916.45,304.28 917.21,304.13 917.98,303.98 918.74,303.83 919.50,303.68 920.27,303.54 921.03,303.39 921.79,303.24 922.55,303.09 923.32,302.94 924.08,302.79 924.84,302.64 925.61,302.49 926.37,302.35 927.13,302.20 927.89,302.05 928.66,301.90 929.42,301.75 930.18,301.60 930.95,301.45 931.71,301.31 932.47,301.16 933.23,301.01 934.00,300.86 934.76,300.71 935.52,300.56 936.29,300.41 937.05,300.27 937.81,300.12 938.57,299.97 939.34,299.82 940.10,299.67 940.86,299.52 941.63,299.32 942.39,299.07 943.15,298.82 943.91,298.56 944.68,298.31 945.44,298.06 946.20,297.80 946.97,297.55 947.73,297.30 948.49,297.04 949.25,296.79 950.02,296.54 950.78,296.28 951.54,296.03 952.31,295.78 953.07,295.52 953.83,295.27 954.59,295.02 955.36,294.76 956.12,294.51 956.88,294.26 957.65,294.00 958.41,293.75 959.17,293.50 959.93,293.24 960.70,292.99 961.46,292.74 962.22,292.48 962.99,292.23 963.75,291.98 964.51,291.72 965.27,291.47 966.04,291.22 966.80,290.96 967.56,290.71 968.33,290.46 969.09,290.20 969.85,289.95 970.61,289.70 971.38,289.44 972.14,289.19 972.90,288.94 973.67,288.68 974.43,288.43 975.19,288.18 975.95,287.92 976.72,287.67 977.48,287.41 978.24,287.16 979.01,286.91 979.77,286.65 980.53,286.40 981.29,286.15 982.06,285.89 982.82,285.64 983.58,285.39 984.35,285.13 985.11,284.88 985.87,284.63 986.63,284.37 987.40,284.12 988.16,283.81 988.92,283.47 989.69,283.13 990.45,282.79 991.21,282.45 991.97,282.11 992.74,281.77 993.50,281.43 994.26,281.09 995.03,280.75 995.79,280.41 996.55,280.07 997.31,279.72 998.08,279.38 998.84,279.04 999.60,278.70 1000.37,278.36 1001.13,278.02 1001.89,277.68 1002.65,277.34 1003.42,277.00 1004.18,276.66 1004.94,276.32 1005.71,275.97 1006.47,275.63 1007.23,275.29 1007.99,274.95 1008.76,274.61 1009.52,274.27 1010.28,273.93 1011.05,273.59 1011.81,273.25 1012.57,272.91 1013.33,272.57 1014.10,272.23 1014.86,271.88 1015.62,271.54 1016.39,271.20 1017.15,270.86 1017.91,270.52 1018.67,270.18 1019.44,269.84 1020.20,269.50 1020.96,269.16 1021.73,268.82 1022.49,268.48 1023.25,268.14 1024.01,267.79 1024.78,267.45 1025.54,267.11 1026.30,266.77 1027.07,266.43 1027.83,266.09 1028.59,265.75 1029.35,265.41 1030.12,265.07 1030.88,264.73 1031.64,264.39 1032.41,264.05 1033.17,263.70 1033.93,263.36 1034.69,262.98 1035.46,262.57 1036.22,262.17 1036.98,261.76 1037.75,261.36 1038.51,260.96 1039.27,260.55 1040.03,260.15 1040.80,259.74 1041.56,259.34 1042.32,258.93 1043.09,258.53 1043.85,258.13 1044.61,257.72 1045.37,257.32 1046.14,256.91 1046.90,256.51 1047.66,256.11 1048.43,255.70 1049.19,255.30 1049.95,254.89 1050.71,254.49 1051.48,254.08 1052.24,253.68 1053.00,253.28 1053.77,252.87 1054.53,252.47 1055.29,252.06 1056.05,251.66 1056.82,251.25 1057.58,250.85 1058.34,250.45 1059.11,250.04 1059.87,249.64 1060.63,249.23 1061.39,248.83 1062.16,248.43 1062.92,248.02 1063.68,247.62 1064.45,247.21 1065.21,246.81 1065.97,246.40 1066.73,246.00 1067.50,245.60 1068.26,245.19 1069.02,244.79 1069.79,244.38 1070.55,243.98 1071.31,243.58 1072.07,243.17 1072.84,242.77 1073.60,242.36 1074.36,241.96 1075.13,241.55 1075.89,241.15 1076.65,240.75 1077.41,240.34 1078.18,239.94 1078.94,239.53 1079.70,239.13 1080.47,238.73 1081.23,238.29 1081.99,237.85 1082.75,237.42 1083.52,236.98 1084.28,236.54 1085.04,236.10 1085.81,235.66 1086.57,235.23 1087.33,234.79 1088.09,234.35 1088.86,233.91 1089.62,233.47 1090.38,233.04 1091.15,232.60 1091.91,232.16 1092.67,231.72 1093.43,231.28 1094.20,230.85 1094.96,230.41 1095.72,229.97 1096.49,229.53 1097.25,229.09 1098.01,228.66 1098.77,228.22 1099.54,227.78 1100.30,227.34 1101.06,226.90 1101.83,226.47 1102.59,226.03 1103.35,225.59 1104.11,225.15 1104.88,224.72 1105.64,224.28 1106.40,223.84 1107.17,223.40 1107.93,222.96 1108.69,222.53 1109.45,222.09 1110.22,221.65 1110.98,221.21 1111.74,220.77 1112.51,220.34 1113.27,219.90 1114.03,219.46 1114.79,219.02 1115.56,218.58 1116.32,218.15 1117.08,217.71 1117.85,217.27 1118.61,216.83 1119.37,216.39 1120.13,215.96 1120.90,215.52 1121.66,215.08 1122.42,214.64 1123.19,214.20 1123.95,213.77 1124.71,213.33 1125.47,212.89 1126.24,212.45 1127.00,212.01"/>
<g stroke="#262626" stroke-width="1" fill="none" shape-rendering="crispEdges"><rect x="59.5" y="65.5" width="1068" height="294" fill="none"/><line x1="59.5" y1="359" x2="59.5" y2="349"/><line x1="59.5" y1="66" x2="59.5" y2="75"/><line x1="228.5" y1="359" x2="228.5" y2="349"/><line x1="228.5" y1="66" x2="228.5" y2="75"/><line x1="398.5" y1="359" x2="398.5" y2="349"/><line x1="398.5" y1="66" x2="398.5" y2="75"/><line x1="568.5" y1="359" x2="568.5" y2="349"/><line x1="568.5" y1="66" x2="568.5" y2="75"/><line x1="738.5" y1="359" x2="738.5" y2="349"/><line x1="738.5" y1="66" x2="738.5" y2="75"/><line x1="908.5" y1="359" x2="908.5" y2="349"/><line x1="908.5" y1="66" x2="908.5" y2="75"/><line x1="1078.5" y1="359" x2="1078.5" y2="349"/><line x1="1078.5" y1="66" x2="1078.5" y2="75"/><line x1="60" y1="65.5" x2="69" y2="65.5"/><line x1="1127" y1="65.5" x2="1117" y2="65.5"/><line x1="60" y1="114.5" x2="69" y2="114.5"/><line x1="1127" y1="114.5" x2="1117" y2="114.5"/><line x1="60" y1="163.5" x2="69" y2="163.5"/><line x1="1127" y1="163.5" x2="1117" y2="163.5"/><line x1="60" y1="212.5" x2="69" y2="212.5"/><line x1="1127" y1="212.5" x2="1117" y2="212.5"/><line x1="60" y1="261.5" x2="69" y2="261.5"/><line x1="1127" y1="261.5" x2="1117" y2="261.5"/><line x1="60" y1="310.5" x2="69" y2="310.5"/><line x1="1127" y1="310.5" x2="1117" y2="310.5"/><line x1="60" y1="359.5" x2="69" y2="359.5"/><line x1="1127" y1="359.5" x2="1117" y2="359.5"/></g>
<g font-size="10"><text x="60.3" y="372.7" text-anchor="middle">0</text><text x="229.3" y="372.7" text-anchor="middle">1</text><text x="399.3" y="372.7" text-anchor="middle">2</text><text x="569.3" y="372.7" text-anchor="middle">3</text><text x="739.3" y="372.7" text-anchor="middle">4</text><text x="909.3" y="372.7" text-anchor="middle">5</text><text x="1079.3" y="372.7" text-anchor="middle">6</text><text x="54.5" y="69.1" text-anchor="end">1.5</text><text x="54.5" y="118.1" text-anchor="end">1</text><text x="54.5" y="167.1" text-anchor="end">0.5</text><text x="54.5" y="216.1" text-anchor="end">0</text><text x="54.5" y="265.1" text-anchor="end">-0.5</text><text x="54.5" y="314.1" text-anchor="end">-1</text><text x="54.5" y="363.1" text-anchor="end">-1.5</text></g>
<text x="593" y="59" text-anchor="middle" font-size="11" font-weight="bold" fill="#000" style="fill:#000" textLength="335.5" lengthAdjust="spacing">Comparison of Original Function and Approximation</text>
<text x="593" y="387.8" text-anchor="middle" font-size="11">Input</text>
<text transform="translate(28.1,212.2) rotate(-90)" x="0" y="0" text-anchor="middle" font-size="11" textLength="84.5" lengthAdjust="spacing">Function Value</text>
<rect x="59.5" y="18.5" width="112" height="28" fill="#ffffff" stroke="#262626" stroke-width="1" shape-rendering="crispEdges"/>
<line x1="63" y1="25.5" x2="94" y2="25.5" stroke="#D95319" stroke-width="1" shape-rendering="crispEdges"/>
<line x1="63" y1="38.5" x2="94" y2="38.5" stroke="#0072BD" stroke-width="1" shape-rendering="crispEdges"/>
<text x="98" y="29.2" font-size="9" textLength="68.5" lengthAdjust="spacing">Approximation</text>
<text x="98" y="40.7" font-size="9" textLength="36.5" lengthAdjust="spacing">Original</text>
<rect x="59" y="473" width="1068" height="295" fill="#ffffff"/>
<rect x="59" y="479.91" width="1068" height="288.09" fill="#CCEEE2"/>
<g stroke="#262626" stroke-opacity="0.25" stroke-width="1" stroke-dasharray="1 3" shape-rendering="crispEdges"><line x1="92.5" y1="769" x2="92.5" y2="474"/><line x1="126.5" y1="769" x2="126.5" y2="474"/><line x1="160.5" y1="769" x2="160.5" y2="474"/><line x1="194.5" y1="769" x2="194.5" y2="474"/><line x1="262.5" y1="769" x2="262.5" y2="474"/><line x1="296.5" y1="769" x2="296.5" y2="474"/><line x1="330.5" y1="769" x2="330.5" y2="474"/><line x1="364.5" y1="769" x2="364.5" y2="474"/><line x1="432.5" y1="769" x2="432.5" y2="474"/><line x1="466.5" y1="769" x2="466.5" y2="474"/><line x1="500.5" y1="769" x2="500.5" y2="474"/><line x1="534.5" y1="769" x2="534.5" y2="474"/><line x1="602.5" y1="769" x2="602.5" y2="474"/><line x1="636.5" y1="769" x2="636.5" y2="474"/><line x1="670.5" y1="769" x2="670.5" y2="474"/><line x1="704.5" y1="769" x2="704.5" y2="474"/><line x1="772.5" y1="769" x2="772.5" y2="474"/><line x1="806.5" y1="769" x2="806.5" y2="474"/><line x1="840.5" y1="769" x2="840.5" y2="474"/><line x1="874.5" y1="769" x2="874.5" y2="474"/><line x1="942.5" y1="769" x2="942.5" y2="474"/><line x1="976.5" y1="769" x2="976.5" y2="474"/><line x1="1010.5" y1="769" x2="1010.5" y2="474"/><line x1="1044.5" y1="769" x2="1044.5" y2="474"/><line x1="1112.5" y1="769" x2="1112.5" y2="474"/></g>
<g stroke="#262626" stroke-opacity="0.15" stroke-width="1" shape-rendering="crispEdges"><line x1="228.5" y1="474" x2="228.5" y2="768"/><line x1="398.5" y1="474" x2="398.5" y2="768"/><line x1="568.5" y1="474" x2="568.5" y2="768"/><line x1="738.5" y1="474" x2="738.5" y2="768"/><line x1="908.5" y1="474" x2="908.5" y2="768"/><line x1="1078.5" y1="474" x2="1078.5" y2="768"/><line x1="60" y1="510.5" x2="1127" y2="510.5"/><line x1="60" y1="547.5" x2="1127" y2="547.5"/><line x1="60" y1="584.5" x2="1127" y2="584.5"/><line x1="60" y1="621.5" x2="1127" y2="621.5"/><line x1="60" y1="657.5" x2="1127" y2="657.5"/><line x1="60" y1="694.5" x2="1127" y2="694.5"/><line x1="60" y1="731.5" x2="1127" y2="731.5"/></g>
<line x1="59" y1="480.5" x2="1127" y2="480.5" stroke="#A5C634" stroke-width="1.2" shape-rendering="crispEdges"/>
<g fill="none" stroke="#FF0000" stroke-width="1" shape-rendering="crispEdges">
<polyline transform="translate(0,-0.45)" points="59.00,750.30 59.00,750.30 59.45,750.95 59.89,751.60 60.34,752.25 60.78,752.90 61.23,753.55 61.67,754.19 62.12,754.83 62.56,755.46 63.00,756.09 63.45,756.71 63.89,757.33 64.34,757.93 64.78,758.53 65.23,759.13 65.67,759.71 66.12,760.28 66.56,760.84 67.01,761.39 67.45,761.93 67.90,762.46 68.34,762.97 68.79,763.47 69.23,763.96 69.68,764.43 70.12,764.88 70.57,765.32 71.02,765.74 71.46,766.14 71.91,766.52 72.35,766.89 72.80,767.23 73.24,767.55 73.69,767.86 73.91,768.00 74.13,767.86 74.58,767.60 75.02,767.37 75.47,767.16 75.91,766.97 76.35,766.81 76.80,766.67 77.25,766.56 77.69,766.48 78.13,766.42 78.58,766.40 79.03,766.40 79.47,766.43 79.91,766.49 80.36,766.59 80.80,766.71 81.25,766.87 81.69,767.06 82.14,767.28 82.58,767.54 83.03,767.84 83.26,768.00 83.47,767.84 83.92,767.47 84.36,767.07 84.81,766.63 85.25,766.15 85.70,765.63 86.14,765.08 86.59,764.48 87.03,763.84 87.48,763.16 87.92,762.44 88.37,761.68 88.81,760.87 89.26,760.02 89.70,759.12 90.15,758.18 90.59,757.20 91.04,756.16 91.48,755.08 91.93,753.95 92.38,752.77 92.82,751.54 93.27,750.27 93.71,748.94 94.16,747.56 94.60,746.13 95.04,744.64 95.49,743.11 95.94,741.51 96.38,739.87 96.82,738.17 97.27,736.41 97.72,734.60 98.16,732.73 98.61,730.80 99.05,728.82 99.50,726.77 99.94,724.67 100.38,722.50 100.83,720.28 101.28,717.99 101.72,715.64 102.16,713.23 102.61,710.75 103.06,708.21 103.50,705.61 103.94,702.94 104.39,700.20 104.83,697.40 105.28,694.53 105.43,693.51 105.43,693.51 105.72,696.03 106.17,699.84 106.61,703.58 107.06,707.26 107.50,710.86 107.95,714.38 108.40,717.84 108.84,721.23 109.28,724.54 109.73,727.78 110.18,730.94 110.62,734.03 111.06,737.04 111.51,739.98 111.95,742.84 112.40,745.62 112.84,748.33 113.29,750.95 113.73,753.50 114.18,755.97 114.62,758.35 115.07,760.66 115.52,762.88 115.96,765.02 116.41,767.08 116.61,768.00 116.85,766.95 117.30,765.06 117.74,763.26 118.19,761.54 118.63,759.91 119.07,758.36 119.52,756.90 119.97,755.53 120.41,754.25 120.85,753.06 121.30,751.96 121.74,750.95 122.19,750.03 122.63,749.20 123.08,748.46 123.52,747.82 123.97,747.27 124.42,746.81 124.86,746.45 125.30,746.19 125.75,746.02 126.19,745.95 126.64,745.98 127.08,746.10 127.53,746.32 127.97,746.64 128.42,747.06 128.87,747.59 129.31,748.21 129.75,748.93 130.20,749.76 130.64,750.69 131.09,751.72 131.53,752.86 131.98,754.10 132.42,755.44 132.87,756.89 133.31,758.45 133.76,760.12 134.20,761.89 134.65,763.77 135.09,765.76 135.54,767.86 135.57,768.00 135.98,765.93 136.43,763.61 136.88,761.18 137.32,758.63 137.76,755.98 138.21,753.21 138.65,750.33 139.10,747.33 139.54,744.22 139.99,741.00 140.44,737.65 140.88,734.19 141.32,730.62 141.77,726.93 142.22,723.11 142.66,719.18 143.11,715.13 143.55,710.96 144.00,706.67 144.44,702.26 144.88,697.73 145.33,693.07 145.77,688.29 146.22,683.39 146.66,678.37 147.11,673.21 147.56,667.94 148.00,662.54 148.44,657.01 148.89,651.35 149.33,645.57 149.78,639.66 150.22,633.62 150.67,627.45 151.11,621.15 151.56,614.72 151.87,610.18 151.87,610.18 152.00,612.50 152.45,620.04 152.89,627.45 153.34,634.72 153.78,641.87 154.23,648.88 154.67,655.75 155.12,662.49 155.56,669.10 156.01,675.57 156.46,681.90 156.90,688.10 157.34,694.15 157.79,700.07 158.23,705.85 158.68,711.50 159.12,717.00 159.57,722.36 160.01,727.58 160.46,732.66 160.90,737.60 161.35,742.39 161.80,747.04 162.24,751.55 162.69,755.91 163.13,760.13 163.57,764.20 164.00,768.00 164.02,767.87 164.46,764.09 164.91,760.45 165.35,756.97 165.80,753.63 166.25,750.44 166.69,747.40 167.13,744.51 167.58,741.77 168.02,739.18 168.47,736.74 168.91,734.45 169.36,732.32 169.81,730.33 170.25,728.50 170.69,726.83 171.14,725.31 171.58,723.94 172.03,722.73 172.47,721.68 172.92,720.78 173.37,720.04 173.81,719.46 174.25,719.03 174.70,718.76 175.14,718.66 175.59,718.71 176.03,718.92 176.48,719.29 176.93,719.83 177.37,720.52 177.81,721.38 178.26,722.40 178.70,723.58 179.15,724.93 179.59,726.44 180.04,728.11 180.49,729.96 180.93,731.96 181.38,734.13 181.82,736.47 182.26,738.98 182.71,741.65 183.15,744.50 183.60,747.51 184.04,750.69 184.49,754.03 184.94,757.55 185.38,761.24 185.82,765.10 186.15,768.00 186.27,766.86 186.71,762.66 187.16,758.28 187.60,753.73 188.05,749.01 188.50,744.11 188.94,739.04 189.38,733.79 189.83,728.37 190.28,722.77 190.72,716.99 191.16,711.04 191.61,704.91 192.06,698.61 192.50,692.12 192.94,685.46 193.39,678.62 193.83,671.59 194.28,664.39 194.72,657.01 195.17,649.44 195.61,641.70 196.06,633.77 196.50,625.66 196.95,617.37 197.39,608.89 197.84,600.23 198.28,591.39 198.30,591.00 198.30,591.00 198.73,600.58 199.17,610.42 199.62,620.07 200.06,629.54 200.51,638.82 200.95,647.91 201.40,656.82 201.84,665.54 202.29,674.07 202.73,682.41 203.18,690.56 203.62,698.52 204.07,706.29 204.51,713.87 204.96,721.26 205.41,728.46 205.85,735.47 206.29,742.29 206.74,748.91 207.18,755.34 207.63,761.58 208.07,767.62 208.10,768.00 208.52,762.53 208.96,756.88 209.41,751.42 209.85,746.16 210.30,741.09 210.74,736.22 211.19,731.55 211.63,727.07 212.08,722.79 212.53,718.71 212.97,714.83 213.41,711.15 213.86,707.67 214.30,704.38 214.75,701.30 215.19,698.41 215.64,695.73 216.08,693.25 216.53,690.97 216.97,688.89 217.42,687.02 217.86,685.35 218.31,683.88 218.75,682.61 219.20,681.55 219.64,680.70 220.09,680.04 220.53,679.60 220.98,679.36 221.43,679.32 221.87,679.49 222.31,679.87 222.76,680.46 223.21,681.25 223.65,682.25 224.09,683.46 224.54,684.88 224.98,686.51 225.43,688.34 225.88,690.39 226.32,692.64 226.76,695.11 227.21,697.79 227.65,700.68 228.10,703.78 228.54,707.09 228.99,710.62 229.43,714.35 229.88,718.30 230.33,722.47 230.77,726.85 231.22,731.44 231.66,736.24 232.10,741.27 232.55,746.50 233.00,751.95 233.44,757.62 233.88,763.50 234.21,768.00 234.33,766.39 234.78,760.08 235.22,753.54 235.66,746.79 236.11,739.82 236.55,732.63 237.00,725.23 237.44,717.60 237.89,709.76 238.33,701.69 238.78,693.41 239.22,684.90 239.67,676.18 240.12,667.23 240.56,658.07 241.00,648.68 241.45,639.07 241.90,629.24 242.34,619.18 242.78,608.91 243.23,598.41 243.67,587.68 244.12,576.73 244.56,565.56 244.74,561.13 244.74,561.13 245.01,568.45 245.45,580.29 245.90,591.91 246.34,603.30 246.79,614.46 247.23,625.40 247.68,636.12 248.12,646.60 248.57,656.87 249.02,666.90 249.46,676.71 249.91,686.28 250.35,695.64 250.79,704.76 251.24,713.65 251.69,722.32 252.13,730.76 252.57,738.96 253.02,746.94 253.46,754.69 253.91,762.21 254.26,768.00 254.35,766.50 254.80,759.45 255.24,752.62 255.69,746.02 256.13,739.66 256.58,733.53 257.02,727.63 257.47,721.96 257.91,716.52 258.36,711.32 258.81,706.35 259.25,701.61 259.69,697.11 260.14,692.84 260.58,688.81 261.03,685.01 261.48,681.44 261.92,678.11 262.37,675.01 262.81,672.15 263.25,669.52 263.70,667.13 264.14,664.98 264.59,663.06 265.03,661.38 265.48,659.93 265.92,658.72 266.37,657.75 266.81,657.02 267.26,656.52 267.70,656.26 268.15,656.24 268.60,656.46 269.04,656.92 269.49,657.61 269.93,658.54 270.38,659.72 270.82,661.13 271.26,662.78 271.71,664.67 272.15,666.80 272.60,669.18 273.04,671.79 273.49,674.64 273.93,677.73 274.38,681.07 274.82,684.64 275.27,688.46 275.71,692.52 276.16,696.82 276.60,701.36 277.05,706.14 277.50,711.17 277.94,716.44 278.38,721.95 278.83,727.71 279.27,733.70 279.72,739.95 280.16,746.43 280.61,753.16 281.05,760.13 281.50,767.35 281.54,768.00 281.94,761.19 282.39,753.49 282.83,745.54 283.28,737.35 283.72,728.91 284.17,720.23 284.62,711.30 285.06,702.13 285.50,692.71 285.95,683.04 286.39,673.13 286.84,662.98 287.29,652.57 287.73,641.93 288.17,631.03 288.62,619.89 289.06,608.50 289.51,596.87 289.95,584.99 290.40,572.86 290.84,560.48 291.17,551.18 291.17,551.18 291.29,554.55 291.74,567.33 292.18,579.87 292.62,592.16 293.07,604.20 293.51,615.99 293.96,627.53 294.40,638.83 294.85,649.87 295.29,660.67 295.74,671.22 296.18,681.52 296.63,691.58 297.08,701.38 297.52,710.93 297.96,720.24 298.41,729.29 298.85,738.10 299.30,746.66 299.75,754.96 300.19,763.02 300.47,768.00 300.63,765.17 301.08,757.61 301.52,750.31 301.97,743.25 302.41,736.44 302.86,729.89 303.30,723.58 303.75,717.52 304.19,711.72 304.64,706.16 305.08,700.86 305.53,695.80 305.97,691.00 306.42,686.45 306.87,682.15 307.31,678.10 307.75,674.30 308.20,670.76 308.64,667.46 309.09,664.42 309.53,661.63 309.98,659.08 310.42,656.80 310.87,654.76 311.31,652.97 311.76,651.44 312.20,650.16 312.65,649.13 313.10,648.35 313.54,647.82 313.99,647.55 314.43,647.52 314.87,647.75 315.32,648.24 315.76,648.97 316.21,649.96 316.65,651.20 317.10,652.69 317.54,654.43 317.99,656.43 318.44,658.68 318.88,661.18 319.32,663.93 319.77,666.94 320.21,670.20 320.66,673.71 321.10,677.47 321.55,681.49 321.99,685.76 322.44,690.28 322.88,695.06 323.33,700.08 323.77,705.36 324.22,710.90 324.66,716.68 325.11,722.72 325.56,729.01 326.00,735.55 326.44,742.35 326.89,749.40 327.33,756.70 327.78,764.26 328.00,768.00 328.22,763.94 328.67,755.88 329.11,747.56 329.56,739.00 330.00,730.18 330.45,721.11 330.89,711.79 331.34,702.21 331.78,692.38 332.23,682.30 332.67,671.97 333.12,661.38 333.56,650.54 334.01,639.45 334.45,628.11 334.90,616.51 335.35,604.66 335.79,592.56 336.23,580.21 336.68,567.60 337.12,554.74 337.57,541.63 337.61,540.48 337.61,540.48 338.01,552.75 338.46,565.94 338.90,578.87 339.35,591.56 339.79,604.00 340.24,616.18 340.68,628.11 341.13,639.79 341.57,651.22 342.02,662.39 342.46,673.32 342.91,683.99 343.35,694.41 343.80,704.58 344.24,714.50 344.69,724.17 345.13,733.58 345.58,742.75 346.02,751.66 346.47,760.32 346.88,768.00 346.92,767.26 347.36,759.10 347.81,751.19 348.25,743.53 348.69,736.12 349.14,728.97 349.59,722.06 350.03,715.40 350.47,708.99 350.92,702.83 351.37,696.93 351.81,691.27 352.25,685.86 352.70,680.70 353.14,675.79 353.59,671.14 354.03,666.73 354.48,662.57 354.93,658.66 355.37,654.99 355.81,651.58 356.26,648.42 356.70,645.50 357.15,642.83 357.59,640.42 358.04,638.25 358.48,636.33 358.93,634.65 359.38,633.23 359.82,632.05 360.26,631.12 360.71,630.44 361.16,630.00 361.60,629.82 362.04,629.88 362.49,630.18 362.94,630.74 363.38,631.54 363.82,632.58 364.27,633.88 364.71,635.42 365.16,637.20 365.60,639.24 366.05,641.52 366.50,644.04 366.94,646.81 367.38,649.82 367.83,653.09 368.27,656.59 368.72,660.34 369.17,664.34 369.61,668.58 370.05,673.06 370.50,677.79 370.94,682.76 371.39,687.98 371.83,693.44 372.28,699.14 372.72,705.09 373.17,711.28 373.61,717.72 374.06,724.39 374.50,731.31 374.95,738.48 375.39,745.88 375.84,753.53 376.28,761.42 376.65,768.00 376.73,766.45 377.18,758.08 377.62,749.47 378.06,740.61 378.51,731.52 378.95,722.18 379.40,712.61 379.84,702.79 380.29,692.73 380.74,682.44 381.18,671.90 381.62,661.12 382.07,650.11 382.51,638.85 382.96,627.36 383.40,615.62 383.85,603.65 384.04,598.37 384.04,598.38 384.29,605.22 384.74,617.15 385.18,628.85 385.63,640.30 386.07,651.52 386.52,662.50 386.96,673.24 387.41,683.75 387.85,694.02 388.30,704.06 388.75,713.85 389.19,723.42 389.63,732.74 390.08,741.84 390.52,750.69 390.97,759.32 391.41,767.70 391.43,768.00 391.86,760.14 392.31,752.22 392.75,744.54 393.19,737.08 393.64,729.86 394.08,722.88 394.53,716.13 394.97,709.60 395.42,703.32 395.86,697.26 396.31,691.43 396.75,685.84 397.20,680.48 397.64,675.35 398.09,670.44 398.53,665.77 398.98,661.33 399.42,657.12 399.87,653.14 400.31,649.39 400.76,645.87 401.20,642.57 401.65,639.51 402.09,636.67 402.54,634.06 402.98,631.68 403.43,629.52 403.87,627.59 404.32,625.89 404.76,624.42 405.21,623.17 405.65,622.14 406.10,621.34 406.55,620.77 406.99,620.42 407.43,620.30 407.88,620.40 408.32,620.73 408.77,621.28 409.21,622.05 409.66,623.04 410.11,624.26 410.55,625.70 410.99,627.36 411.44,629.25 411.88,631.35 412.33,633.68 412.77,636.23 413.22,639.00 413.66,641.98 414.11,645.19 414.55,648.62 415.00,652.27 415.44,656.13 415.89,660.22 416.34,664.52 416.78,669.04 417.22,673.78 417.67,678.73 418.11,683.91 418.56,689.30 419.00,694.90 419.45,700.72 419.90,706.76 420.34,713.01 420.78,719.47 421.23,726.15 421.67,733.05 422.12,740.16 422.56,747.48 423.01,755.01 423.45,762.76 423.75,768.00 423.90,765.28 424.34,757.11 424.79,748.72 425.24,740.13 425.68,731.32 426.12,722.31 426.57,713.08 427.01,703.65 427.46,694.00 427.90,684.15 428.35,674.08 428.80,663.81 429.24,653.33 429.69,642.65 430.13,631.75 430.48,623.08 430.48,623.08 430.57,625.22 431.02,634.91 431.46,644.40 431.91,653.68 432.35,662.76 432.80,671.63 433.24,680.30 433.69,688.77 434.14,697.03 434.58,705.09 435.02,712.94 435.47,720.59 435.92,728.04 436.36,735.29 436.80,742.34 437.25,749.19 437.69,755.83 438.14,762.28 438.55,768.00 438.58,767.48 439.03,761.43 439.48,755.58 439.92,749.93 440.36,744.48 440.81,739.23 441.25,734.17 441.70,729.31 442.14,724.65 442.59,720.18 443.03,715.91 443.48,711.84 443.93,707.95 444.37,704.27 444.81,700.77 445.26,697.47 445.70,694.37 446.15,691.45 446.59,688.73 447.04,686.20 447.48,683.86 447.93,681.71 448.38,679.76 448.82,677.99 449.26,676.41 449.71,675.02 450.15,673.82 450.60,672.81 451.04,671.99 451.49,671.35 451.93,670.90 452.38,670.64 452.82,670.56 453.27,670.67 453.72,670.96 454.16,671.44 454.60,672.10 455.05,672.95 455.50,673.98 455.94,675.19 456.38,676.58 456.83,678.16 457.27,679.92 457.72,681.86 458.16,683.98 458.61,686.28 459.06,688.76 459.50,691.42 459.94,694.25 460.39,697.27 460.83,700.46 461.28,703.83 461.72,707.38 462.17,711.11 462.62,715.01 463.06,719.08 463.50,723.33 463.95,727.76 464.39,732.35 464.84,737.13 465.28,742.07 465.73,747.19 466.17,752.48 466.62,757.94 467.06,763.57 467.41,768.00 467.51,766.62 467.95,760.65 468.40,754.51 468.84,748.20 469.29,741.72 469.73,735.07 470.18,728.25 470.62,721.27 471.07,714.12 471.51,706.80 471.96,699.32 472.40,691.67 472.85,683.86 473.30,675.89 473.74,667.75 474.18,659.45 474.63,650.98 475.07,642.35 475.52,633.56 475.96,624.61 476.41,615.50 476.86,606.23 476.91,605.01 476.91,605.01 477.30,611.67 477.74,619.17 478.19,626.51 478.63,633.70 479.08,640.73 479.52,647.60 479.97,654.31 480.41,660.87 480.86,667.27 481.30,673.52 481.75,679.62 482.19,685.56 482.64,691.34 483.08,696.98 483.53,702.46 483.97,707.79 484.42,712.97 484.86,718.00 485.31,722.87 485.75,727.60 486.20,732.18 486.65,736.61 487.09,740.90 487.53,745.03 487.98,749.02 488.42,752.86 488.87,756.56 489.31,760.11 489.76,763.51 490.20,766.78 490.38,768.00 490.65,766.11 491.09,763.13 491.54,760.30 491.98,757.61 492.43,755.06 492.88,752.65 493.32,750.39 493.76,748.26 494.21,746.27 494.65,744.42 495.10,742.71 495.54,741.14 495.99,739.70 496.44,738.40 496.88,737.24 497.32,736.21 497.77,735.31 498.21,734.55 498.66,733.93 499.10,733.44 499.55,733.08 499.99,732.85 500.44,732.75 500.89,732.79 501.33,732.95 501.77,733.25 502.22,733.67 502.67,734.22 503.11,734.90 503.55,735.71 504.00,736.65 504.44,737.71 504.89,738.90 505.33,740.21 505.78,741.65 506.23,743.21 506.67,744.89 507.11,746.70 507.56,748.63 508.00,750.68 508.45,752.86 508.89,755.15 509.34,757.56 509.78,760.10 510.23,762.75 510.68,765.52 511.06,768.00 511.12,767.59 511.56,764.59 512.01,761.47 512.45,758.23 512.90,754.88 513.34,751.41 513.79,747.83 514.23,744.13 514.68,740.32 515.12,736.40 515.57,732.37 516.01,728.23 516.46,723.97 516.90,719.61 517.35,715.14 517.79,710.55 518.24,705.86 518.68,701.07 519.13,696.16 519.57,691.15 520.02,686.03 520.47,680.81 520.91,675.48 521.36,670.05 521.80,664.52 522.25,658.88 522.69,653.14 523.13,647.30 523.35,644.47 523.35,644.47 523.58,646.95 524.02,651.64 524.47,656.22 524.91,660.71 525.36,665.10 525.81,669.39 526.25,673.58 526.69,677.68 527.14,681.68 527.59,685.58 528.03,689.39 528.47,693.11 528.92,696.73 529.37,700.26 529.81,703.69 530.25,707.04 530.70,710.29 531.14,713.45 531.59,716.52 532.03,719.51 532.48,722.40 532.92,725.21 533.37,727.93 533.81,730.56 534.26,733.11 534.70,735.57 535.15,737.94 535.60,740.23 536.04,742.44 536.48,744.56 536.93,746.61 537.38,748.56 537.82,750.44 538.26,752.24 538.71,753.96 539.15,755.60 539.60,757.16 540.05,758.64 540.49,760.04 540.93,761.37 541.38,762.62 541.83,763.80 542.27,764.90 542.71,765.92 543.16,766.88 543.61,767.76 543.74,768.00 544.05,767.44 544.49,766.70 544.94,766.04 545.38,765.44 545.83,764.92 546.27,764.46 546.72,764.08 547.16,763.76 547.61,763.51 548.05,763.33 548.50,763.21 548.94,763.16 549.39,763.17 549.84,763.24 550.28,763.38 550.72,763.59 551.17,763.85 551.62,764.18 552.06,764.57 552.50,765.01 552.95,765.52 553.39,766.09 553.84,766.71 554.28,767.39 554.65,768.00 554.73,767.87 555.17,767.07 555.62,766.22 556.06,765.31 556.51,764.35 556.95,763.34 557.40,762.27 557.85,761.15 558.29,759.97 558.73,758.75 559.18,757.47 559.62,756.15 560.07,754.78 560.51,753.35 560.96,751.88 561.40,750.36 561.85,748.80 562.29,747.19 562.74,745.53 563.18,743.83 563.63,742.09 564.07,740.30 564.52,738.47 564.96,736.59 565.41,734.68 565.85,732.72 566.30,730.73 566.74,728.69 567.19,726.62 567.63,724.51 568.08,722.36 568.52,720.17 568.97,717.95 569.41,715.69 569.78,713.79 569.78,713.79 569.86,714.01 570.30,715.26 570.75,716.47 571.19,717.65 571.64,718.79 572.08,719.90 572.53,720.99 572.98,722.04 573.42,723.06 573.86,724.05 574.31,725.02 574.75,725.96 575.20,726.87 575.64,727.75 576.09,728.61 576.53,729.44 576.98,730.25 577.43,731.03 577.87,731.80 578.31,732.54 578.76,733.25 579.21,733.95 579.65,734.62 580.09,735.28 580.54,735.92 580.98,736.53 581.43,737.14 581.88,737.72 582.32,738.28 582.76,738.84 583.21,739.37 583.65,739.89 584.10,740.40 584.54,740.89 584.99,741.37 585.43,741.84 585.88,742.30 586.32,742.75 586.77,743.19 587.22,743.61 587.66,744.03 588.10,744.45 588.55,744.85 589.00,745.25 589.44,745.64 589.88,746.03 590.33,746.41 590.77,746.79 591.22,747.16 591.66,747.53 592.11,747.90 592.55,748.27 593.00,748.64 593.44,749.01 593.89,749.38 594.33,749.75 594.78,750.12 595.22,750.49 595.67,750.87 596.12,751.25 596.56,751.64 597.00,752.03 597.45,752.43 597.89,752.84 598.34,753.25 598.78,753.67 599.23,754.10 599.67,754.53 600.12,754.98 600.56,755.44 601.01,755.91 601.45,756.39 601.90,756.88 602.35,757.39 602.79,757.91 603.23,758.45 603.68,759.00 604.12,759.56 604.57,760.15 605.01,760.75 605.46,761.36 605.90,762.00 606.35,762.66 606.79,763.33 607.24,764.03 607.68,764.75 608.13,765.48 608.57,766.25 609.02,767.03 609.46,767.84 609.55,768.00 609.91,767.33 610.35,766.47 610.80,765.59 611.25,764.68 611.69,763.74 612.13,762.77 612.58,761.78 613.02,760.76 613.47,759.71 613.91,758.62 614.36,757.51 614.80,756.36 615.25,755.19 615.69,753.98 616.14,752.73 616.22,752.51 616.22,752.51 616.59,754.40 617.03,756.65 617.47,758.87 617.92,761.05 618.37,763.19 618.81,765.30 619.25,767.36 619.39,768.00 619.70,766.61 620.14,764.62 620.59,762.67 621.03,760.76 621.48,758.90 621.92,757.07 622.37,755.29 622.81,753.55 623.26,751.86 623.70,750.21 624.15,748.61 624.59,747.05 625.04,745.54 625.49,744.08 625.93,742.66 626.38,741.29 626.82,739.98 627.26,738.71 627.71,737.49 628.15,736.32 628.60,735.21 629.04,734.15 629.49,733.14 629.93,732.19 630.38,731.29 630.82,730.44 631.27,729.65 631.71,728.92 632.16,728.25 632.60,727.63 633.05,727.07 633.49,726.57 633.94,726.13 634.38,725.75 634.83,725.43 635.27,725.17 635.72,724.98 636.16,724.84 636.61,724.77 637.05,724.77 637.50,724.83 637.94,724.95 638.39,725.14 638.83,725.40 639.28,725.73 639.73,726.12 640.17,726.58 640.61,727.11 641.06,727.71 641.50,728.38 641.95,729.13 642.39,729.94 642.84,730.83 643.28,731.79 643.73,732.82 644.17,733.93 644.62,735.11 645.07,736.37 645.51,737.70 645.95,739.11 646.40,740.60 646.84,742.17 647.29,743.82 647.73,745.54 648.18,747.35 648.62,749.23 649.07,751.20 649.51,753.25 649.96,755.38 650.40,757.59 650.85,759.89 651.29,762.27 651.74,764.74 652.18,767.29 652.31,768.00 652.63,766.07 653.07,763.34 653.52,760.53 653.96,757.63 654.41,754.64 654.86,751.56 655.30,748.39 655.75,745.13 656.19,741.78 656.63,738.33 657.08,734.80 657.52,731.17 657.97,727.45 658.41,723.63 658.86,719.72 659.30,715.71 659.75,711.61 660.19,707.41 660.64,703.11 661.08,698.72 661.53,694.22 661.97,689.63 662.42,684.94 662.65,682.45 662.65,682.45 662.87,685.18 663.31,690.82 663.75,696.35 664.20,701.78 664.64,707.11 665.09,712.34 665.53,717.46 665.98,722.48 666.42,727.39 666.87,732.20 667.31,736.90 667.76,741.49 668.21,745.98 668.65,750.36 669.10,754.62 669.54,758.78 669.98,762.83 670.43,766.77 670.57,768.00 670.87,765.40 671.32,761.69 671.76,758.08 672.21,754.59 672.65,751.22 673.10,747.95 673.54,744.81 673.99,741.77 674.44,738.86 674.88,736.06 675.32,733.37 675.77,730.81 676.21,728.36 676.66,726.03 677.10,723.83 677.55,721.74 678.00,719.77 678.44,717.92 678.88,716.20 679.33,714.59 679.77,713.11 680.22,711.76 680.66,710.53 681.11,709.42 681.55,708.43 682.00,707.58 682.44,706.85 682.89,706.24 683.33,705.77 683.78,705.42 684.23,705.20 684.67,705.11 685.12,705.15 685.56,705.32 686.00,705.62 686.45,706.06 686.89,706.62 687.34,707.32 687.78,708.15 688.23,709.11 688.67,710.21 689.12,711.44 689.56,712.81 690.01,714.32 690.46,715.96 690.90,717.74 691.34,719.65 691.79,721.71 692.24,723.90 692.68,726.23 693.12,728.71 693.57,731.32 694.01,734.07 694.46,736.97 694.90,740.01 695.35,743.19 695.79,746.51 696.24,749.97 696.68,753.59 697.13,757.34 697.58,761.24 698.02,765.29 698.31,768.00 698.46,766.52 698.91,762.18 699.35,757.69 699.80,753.05 700.25,748.27 700.69,743.34 701.13,738.25 701.58,733.02 702.02,727.64 702.47,722.10 702.91,716.41 703.36,710.58 703.80,704.58 704.25,698.44 704.69,692.14 705.14,685.69 705.58,679.08 706.03,672.31 706.47,665.39 706.92,658.32 707.37,651.08 707.81,643.69 708.25,636.14 708.70,628.44 709.09,621.61 709.09,621.61 709.14,622.74 709.59,631.33 710.03,639.76 710.48,648.02 710.92,656.13 711.37,664.07 711.81,671.86 712.26,679.48 712.70,686.94 713.15,694.23 713.60,701.36 714.04,708.32 714.48,715.12 714.93,721.76 715.38,728.23 715.82,734.53 716.26,740.66 716.71,746.63 717.15,752.43 717.60,758.05 718.04,763.52 718.42,768.00 718.49,767.19 718.93,762.07 719.38,757.12 719.82,752.34 720.27,747.74 720.72,743.30 721.16,739.04 721.60,734.95 722.05,731.03 722.49,727.29 722.94,723.72 723.38,720.33 723.83,717.11 724.27,714.07 724.72,711.20 725.16,708.51 725.61,706.00 726.05,703.67 726.50,701.51 726.94,699.53 727.39,697.74 727.83,696.12 728.28,694.68 728.72,693.42 729.17,692.35 729.62,691.45 730.06,690.74 730.50,690.21 730.95,689.86 731.39,689.70 731.84,689.72 732.28,689.92 732.73,690.31 733.17,690.88 733.62,691.64 734.06,692.59 734.51,693.72 734.95,695.04 735.40,696.54 735.84,698.24 736.29,700.12 736.74,702.19 737.18,704.45 737.62,706.90 738.07,709.54 738.51,712.37 738.96,715.39 739.41,718.60 739.85,722.01 740.29,725.60 740.74,729.39 741.18,733.38 741.63,737.55 742.07,741.92 742.52,746.48 742.97,751.24 743.41,756.20 743.85,761.34 744.30,766.69 744.41,768.00 744.74,763.77 745.19,758.03 745.63,752.10 746.08,745.96 746.52,739.63 746.97,733.10 747.41,726.37 747.86,719.44 748.30,712.32 748.75,704.99 749.20,697.46 749.64,689.73 750.09,681.80 750.53,673.67 750.97,665.33 751.42,656.80 751.86,648.06 752.31,639.12 752.75,629.97 753.20,620.62 753.64,611.06 754.09,601.30 754.53,591.34 754.98,581.17 755.42,570.79 755.52,568.51 755.52,568.51 755.87,577.30 756.32,588.35 756.76,599.20 757.21,609.84 757.65,620.27 758.09,630.49 758.54,640.50 758.99,650.31 759.43,659.90 759.88,669.29 760.32,678.46 760.76,687.43 761.21,696.18 761.65,704.72 762.10,713.05 762.54,721.17 762.99,729.08 763.43,736.77 763.88,744.25 764.32,751.52 764.77,758.58 765.21,765.41 765.39,768.00 765.66,763.96 766.11,757.55 766.55,751.35 767.00,745.37 767.44,739.61 767.88,734.06 768.33,728.73 768.77,723.62 769.22,718.72 769.66,714.04 770.11,709.58 770.55,705.34 771.00,701.31 771.44,697.51 771.89,693.92 772.33,690.55 772.78,687.40 773.22,684.48 773.67,681.77 774.11,679.28 774.56,677.02 775.00,674.98 775.45,673.15 775.90,671.56 776.34,670.18 776.78,669.02 777.23,668.09 777.67,667.39 778.12,666.90 778.57,666.64 779.01,666.61 779.45,666.79 779.90,667.21 780.34,667.85 780.79,668.71 781.23,669.80 781.68,671.12 782.12,672.66 782.57,674.43 783.01,676.43 783.46,678.65 783.90,681.10 784.35,683.78 784.79,686.69 785.24,689.82 785.69,693.19 786.13,696.78 786.57,700.60 787.02,704.65 787.46,708.93 787.91,713.45 788.36,718.19 788.80,723.16 789.25,728.36 789.69,733.80 790.13,739.46 790.58,745.36 791.02,751.49 791.47,757.85 791.91,764.45 792.15,768.00 792.36,764.72 792.80,757.66 793.25,750.37 793.69,742.84 794.14,735.08 794.58,727.09 795.03,718.86 795.48,710.40 795.92,701.70 796.37,692.77 796.81,683.60 797.25,674.19 797.70,664.55 798.14,654.68 798.59,644.57 799.03,634.22 799.48,623.63 799.92,612.81 800.37,601.75 800.81,590.46 801.26,578.92 801.70,567.15 801.96,560.39 801.96,560.39 802.15,565.93 802.59,578.50 803.04,590.82 803.49,602.91 803.93,614.76 804.38,626.37 804.82,637.74 805.26,648.87 805.71,659.76 806.15,670.41 806.60,680.82 807.04,690.99 807.49,700.92 807.94,710.61 808.38,720.06 808.82,729.26 809.27,738.23 809.71,746.95 810.16,755.44 810.60,763.68 810.84,768.00 811.05,764.33 811.49,756.57 811.94,749.06 812.38,741.79 812.83,734.76 813.27,727.97 813.72,721.43 814.17,715.13 814.61,709.08 815.06,703.27 815.50,697.70 815.94,692.38 816.39,687.30 816.83,682.47 817.28,677.88 817.73,673.54 818.17,669.44 818.61,665.58 819.06,661.97 819.50,658.61 819.95,655.49 820.39,652.62 820.84,649.99 821.28,647.61 821.73,645.48 822.17,643.59 822.62,641.95 823.06,640.56 823.51,639.41 823.96,638.51 824.40,637.85 824.85,637.45 825.29,637.29 825.73,637.38 826.18,637.71 826.62,638.30 827.07,639.13 827.51,640.21 827.96,641.54 828.40,643.11 828.85,644.94 829.29,647.01 829.74,649.33 830.18,651.90 830.63,654.72 831.07,657.79 831.52,661.11 831.96,664.67 832.41,668.49 832.86,672.55 833.30,676.87 833.75,681.43 834.19,686.25 834.63,691.31 835.08,696.62 835.52,702.19 835.97,708.00 836.41,714.07 836.86,720.38 837.30,726.95 837.75,733.76 838.19,740.83 838.64,748.14 839.08,755.71 839.53,763.53 839.78,768.00 839.97,764.40 840.42,756.08 840.86,747.51 841.31,738.69 841.75,729.61 842.20,720.29 842.64,710.71 843.09,700.89 843.54,690.81 843.98,680.48 844.42,669.89 844.87,659.06 845.31,647.98 845.76,636.64 846.20,625.05 846.65,613.21 847.10,601.11 847.54,588.77 847.98,576.17 848.39,564.45 848.39,564.45 848.43,565.59 848.87,578.60 849.32,591.36 849.76,603.86 850.21,616.11 850.65,628.11 851.10,639.85 851.54,651.35 851.99,662.59 852.43,673.58 852.88,684.32 853.33,694.80 853.77,705.03 854.22,715.01 854.66,724.74 855.10,734.21 855.55,743.43 855.99,752.40 856.44,761.11 856.80,768.00 856.88,766.42 857.33,758.21 857.77,750.26 858.22,742.55 858.66,735.10 859.11,727.90 859.55,720.95 860.00,714.26 860.44,707.82 860.89,701.63 861.34,695.69 861.78,690.01 862.22,684.58 862.67,679.40 863.12,674.48 863.56,669.81 864.00,665.39 864.45,661.22 864.89,657.30 865.34,653.64 865.78,650.23 866.23,647.08 866.67,644.17 867.12,641.52 867.56,639.12 868.01,636.98 868.45,635.08 868.90,633.44 869.34,632.05 869.79,630.92 870.23,630.03 870.68,629.40 871.12,629.02 871.57,628.89 872.01,629.02 872.46,629.40 872.91,630.02 873.35,630.90 873.79,632.04 874.24,633.42 874.68,635.06 875.13,636.95 875.57,639.09 876.02,641.48 876.46,644.12 876.91,647.02 877.35,650.16 877.80,653.56 878.24,657.21 878.69,661.11 879.13,665.26 879.58,669.67 880.02,674.32 880.47,679.22 880.91,684.38 881.36,689.79 881.80,695.44 882.25,701.35 882.70,707.51 883.14,713.92 883.58,720.58 884.03,727.49 884.47,734.65 884.92,742.06 885.36,749.72 885.81,757.63 886.25,765.79 886.37,768.00 886.70,761.80 887.14,753.14 887.59,744.23 888.03,735.08 888.48,725.67 888.92,716.01 889.37,706.11 889.81,695.95 890.26,685.55 890.71,674.90 891.15,664.00 891.59,652.85 892.04,641.45 892.49,629.80 892.93,617.91 893.38,605.77 893.82,593.38 894.26,580.74 894.71,567.85 894.83,564.45 894.83,564.45 895.15,573.98 895.60,586.65 896.04,599.07 896.49,611.25 896.93,623.18 897.38,634.87 897.82,646.31 898.27,657.50 898.71,668.44 899.16,679.14 899.61,689.60 900.05,699.80 900.50,709.76 900.94,719.48 901.38,728.95 901.83,738.17 902.27,747.15 902.72,755.89 903.16,764.38 903.36,768.00 903.61,763.37 904.05,755.37 904.50,747.62 904.94,740.10 905.39,732.84 905.83,725.81 906.28,719.03 906.72,712.49 907.17,706.20 907.61,700.15 908.06,694.34 908.50,688.77 908.95,683.45 909.39,678.37 909.84,673.53 910.28,668.93 910.73,664.58 911.17,660.46 911.62,656.59 912.07,652.96 912.51,649.57 912.95,646.42 913.40,643.51 913.84,640.84 914.29,638.41 914.73,636.23 915.18,634.28 915.62,632.57 916.07,631.10 916.51,629.87 916.96,628.88 917.40,628.12 917.85,627.61 918.29,627.33 918.74,627.29 919.19,627.49 919.63,627.93 920.07,628.61 920.52,629.52 920.96,630.67 921.41,632.05 921.86,633.67 922.30,635.53 922.75,637.62 923.19,639.95 923.63,642.52 924.08,645.32 924.52,648.35 924.97,651.62 925.41,655.13 925.86,658.87 926.30,662.84 926.75,667.04 927.19,671.48 927.64,676.16 928.08,681.06 928.53,686.20 928.98,691.57 929.42,697.18 929.87,703.01 930.31,709.08 930.75,715.38 931.20,721.91 931.64,728.67 932.09,735.66 932.53,742.88 932.98,750.33 933.42,758.01 933.87,765.92 933.98,768.00 934.31,761.94 934.76,753.57 935.20,744.97 935.65,736.14 936.09,727.09 936.54,717.81 936.99,708.30 937.43,698.56 937.87,688.60 938.32,678.41 938.76,667.99 939.21,657.35 939.65,646.48 940.10,635.38 940.54,624.06 940.99,612.52 941.26,605.38 941.26,605.38 941.43,609.75 941.88,620.75 942.32,631.53 942.77,642.08 943.21,652.41 943.66,662.52 944.10,672.40 944.55,682.07 944.99,691.51 945.44,700.73 945.88,709.72 946.33,718.50 946.77,727.05 947.22,735.39 947.67,743.50 948.11,751.40 948.55,759.07 949.00,766.53 949.09,768.00 949.44,762.24 949.89,755.22 950.33,748.42 950.78,741.84 951.23,735.47 951.67,729.32 952.11,723.39 952.56,717.68 953.00,712.18 953.45,706.90 953.89,701.83 954.34,696.98 954.78,692.34 955.23,687.92 955.67,683.71 956.12,679.72 956.56,675.94 957.01,672.37 957.46,669.01 957.90,665.87 958.35,662.94 958.79,660.22 959.23,657.71 959.68,655.42 960.12,653.33 960.57,651.45 961.01,649.79 961.46,648.33 961.90,647.08 962.35,646.04 962.79,645.21 963.24,644.59 963.68,644.17 964.13,643.96 964.57,643.96 965.02,644.16 965.46,644.57 965.91,645.19 966.35,646.01 966.80,647.04 967.25,648.27 967.69,649.70 968.13,651.34 968.58,653.18 969.02,655.23 969.47,657.47 969.91,659.92 970.36,662.57 970.80,665.43 971.25,668.48 971.69,671.73 972.14,675.19 972.58,678.84 973.03,682.69 973.47,686.74 973.92,690.99 974.36,695.44 974.81,700.09 975.25,704.93 975.70,709.97 976.14,715.21 976.59,720.64 977.04,726.27 977.48,732.09 977.92,738.11 978.37,744.32 978.81,750.73 979.26,757.32 979.70,764.12 979.95,768.00 980.15,764.90 980.60,757.72 981.04,750.35 981.48,742.79 981.93,735.04 982.37,727.10 982.82,718.97 983.26,710.65 983.71,702.14 984.15,693.44 984.60,684.55 985.04,675.47 985.49,666.21 985.93,656.76 986.38,647.13 986.83,637.30 987.27,627.30 987.70,617.55 987.70,617.55 987.72,617.94 988.16,626.76 988.60,635.39 989.05,643.84 989.49,652.11 989.94,660.20 990.38,668.10 990.83,675.82 991.27,683.36 991.72,690.72 992.16,697.90 992.61,704.89 993.05,711.71 993.50,718.35 993.94,724.81 994.39,731.09 994.84,737.20 995.28,743.12 995.72,748.87 996.17,754.45 996.62,759.84 997.06,765.07 997.32,768.00 997.50,765.89 997.95,761.01 998.39,756.31 998.84,751.79 999.28,747.44 999.73,743.26 1000.17,739.25 1000.62,735.41 1001.06,731.75 1001.51,728.25 1001.95,724.93 1002.40,721.77 1002.84,718.79 1003.29,715.97 1003.73,713.32 1004.18,710.84 1004.62,708.53 1005.07,706.38 1005.51,704.40 1005.96,702.58 1006.40,700.93 1006.85,699.44 1007.29,698.12 1007.74,696.96 1008.18,695.97 1008.63,695.14 1009.07,694.46 1009.52,693.96 1009.96,693.61 1010.41,693.42 1010.85,693.39 1011.30,693.53 1011.74,693.82 1012.19,694.27 1012.63,694.88 1013.08,695.64 1013.52,696.56 1013.97,697.64 1014.41,698.88 1014.86,700.27 1015.30,701.81 1015.75,703.51 1016.20,705.37 1016.64,707.37 1017.08,709.53 1017.53,711.85 1017.97,714.31 1018.42,716.93 1018.86,719.69 1019.31,722.61 1019.75,725.67 1020.20,728.89 1020.64,732.25 1021.09,735.76 1021.53,739.42 1021.98,743.23 1022.42,747.18 1022.87,751.27 1023.31,755.52 1023.76,759.91 1024.20,764.44 1024.55,768.00 1024.65,766.89 1025.09,762.07 1025.54,757.11 1025.99,752.00 1026.43,746.76 1026.88,741.37 1027.32,735.84 1027.76,730.18 1028.21,724.37 1028.65,718.43 1029.10,712.34 1029.55,706.12 1029.99,699.77 1030.43,693.27 1030.88,686.64 1031.32,679.88 1031.77,672.98 1032.21,665.94 1032.66,658.77 1033.11,651.47 1033.55,644.04 1033.99,636.47 1034.13,634.14 1034.13,634.14 1034.44,638.45 1034.88,644.52 1035.33,650.47 1035.78,656.28 1036.22,661.97 1036.66,667.53 1037.11,672.96 1037.55,678.26 1038.00,683.43 1038.44,688.48 1038.89,693.40 1039.34,698.20 1039.78,702.87 1040.22,707.42 1040.67,711.85 1041.11,716.15 1041.56,720.33 1042.00,724.39 1042.45,728.33 1042.89,732.14 1043.34,735.84 1043.78,739.42 1044.23,742.87 1044.67,746.21 1045.12,749.44 1045.57,752.54 1046.01,755.53 1046.45,758.40 1046.90,761.16 1047.34,763.80 1047.79,766.33 1048.10,768.00 1048.23,767.25 1048.68,764.95 1049.12,762.76 1049.57,760.68 1050.01,758.72 1050.46,756.86 1050.90,755.11 1051.35,753.48 1051.80,751.95 1052.24,750.53 1052.68,749.22 1053.13,748.01 1053.57,746.92 1054.02,745.92 1054.46,745.03 1054.91,744.25 1055.36,743.57 1055.80,743.00 1056.24,742.52 1056.69,742.15 1057.13,741.88 1057.58,741.72 1058.02,741.65 1058.47,741.68 1058.91,741.81 1059.36,742.04 1059.80,742.37 1060.25,742.80 1060.69,743.32 1061.14,743.93 1061.59,744.65 1062.03,745.46 1062.47,746.36 1062.92,747.36 1063.36,748.44 1063.81,749.63 1064.25,750.90 1064.70,752.26 1065.14,753.72 1065.59,755.26 1066.03,756.90 1066.48,758.62 1066.92,760.43 1067.37,762.33 1067.81,764.32 1068.26,766.39 1068.59,768.00 1068.70,767.45 1069.15,765.21 1069.59,762.88 1070.04,760.47 1070.48,757.98 1070.93,755.40 1071.38,752.74 1071.82,750.00 1072.26,747.18 1072.71,744.28 1073.15,741.31 1073.60,738.25 1074.04,735.11 1074.49,731.90 1074.93,728.61 1075.38,725.24 1075.82,721.80 1076.27,718.28 1076.71,714.69 1077.16,711.02 1077.60,707.29 1078.05,703.48 1078.49,699.59 1078.94,695.64 1079.38,691.62 1079.83,687.52 1080.28,683.36 1080.57,680.61 1080.57,680.61 1080.72,681.70 1081.16,684.81 1081.61,687.86 1082.05,690.83 1082.50,693.75 1082.94,696.59 1083.39,699.37 1083.83,702.09 1084.28,704.74 1084.72,707.33 1085.17,709.86 1085.62,712.32 1086.06,714.73 1086.50,717.07 1086.95,719.36 1087.39,721.58 1087.84,723.75 1088.28,725.86 1088.73,727.92 1089.17,729.91 1089.62,731.85 1090.07,733.74 1090.51,735.57 1090.96,737.35 1091.40,739.07 1091.85,740.74 1092.29,742.36 1092.73,743.93 1093.18,745.45 1093.62,746.92 1094.07,748.34 1094.51,749.71 1094.96,751.03 1095.40,752.30 1095.85,753.53 1096.29,754.71 1096.74,755.85 1097.18,756.94 1097.63,757.99 1098.07,758.99 1098.52,759.95 1098.96,760.87 1099.41,761.75 1099.86,762.59 1100.30,763.38 1100.75,764.14 1101.19,764.86 1101.63,765.54 1102.08,766.18 1102.52,766.79 1102.97,767.36 1103.41,767.89 1103.51,768.00 1103.86,767.61 1104.31,767.15 1104.75,766.72 1105.19,766.32 1105.64,765.95 1106.08,765.62 1106.53,765.32 1106.97,765.04 1107.42,764.80 1107.87,764.59 1108.31,764.40 1108.75,764.24 1109.20,764.11 1109.64,764.01 1110.09,763.93 1110.54,763.88 1110.98,763.85 1111.42,763.85 1111.87,763.86 1112.31,763.90 1112.76,763.97 1113.20,764.05 1113.65,764.15 1114.10,764.28 1114.54,764.42 1114.98,764.58 1115.43,764.76 1115.87,764.96 1116.32,765.17 1116.76,765.40 1117.21,765.65 1117.65,765.91 1118.10,766.18 1118.54,766.46 1118.99,766.76 1119.43,767.07 1119.88,767.39 1120.33,767.73 1120.68,768.00 1120.77,767.93 1121.21,767.58 1121.66,767.22 1122.11,766.85 1122.55,766.48 1122.99,766.09 1123.44,765.71 1123.88,765.31 1124.33,764.92 1124.77,764.51 1125.22,764.11 1125.66,763.70 1126.11,763.29 1126.55,762.88 1127.00,762.47 1126.40,695.73"/>
<polyline transform="translate(0,0.55)" points="59.00,750.30 59.00,750.30 59.45,750.95 59.89,751.60 60.34,752.25 60.78,752.90 61.23,753.55 61.67,754.19 62.12,754.83 62.56,755.46 63.00,756.09 63.45,756.71 63.89,757.33 64.34,757.93 64.78,758.53 65.23,759.13 65.67,759.71 66.12,760.28 66.56,760.84 67.01,761.39 67.45,761.93 67.90,762.46 68.34,762.97 68.79,763.47 69.23,763.96 69.68,764.43 70.12,764.88 70.57,765.32 71.02,765.74 71.46,766.14 71.91,766.52 72.35,766.89 72.80,767.23 73.24,767.55 73.69,767.86 73.91,768.00 74.13,767.86 74.58,767.60 75.02,767.37 75.47,767.16 75.91,766.97 76.35,766.81 76.80,766.67 77.25,766.56 77.69,766.48 78.13,766.42 78.58,766.40 79.03,766.40 79.47,766.43 79.91,766.49 80.36,766.59 80.80,766.71 81.25,766.87 81.69,767.06 82.14,767.28 82.58,767.54 83.03,767.84 83.26,768.00 83.47,767.84 83.92,767.47 84.36,767.07 84.81,766.63 85.25,766.15 85.70,765.63 86.14,765.08 86.59,764.48 87.03,763.84 87.48,763.16 87.92,762.44 88.37,761.68 88.81,760.87 89.26,760.02 89.70,759.12 90.15,758.18 90.59,757.20 91.04,756.16 91.48,755.08 91.93,753.95 92.38,752.77 92.82,751.54 93.27,750.27 93.71,748.94 94.16,747.56 94.60,746.13 95.04,744.64 95.49,743.11 95.94,741.51 96.38,739.87 96.82,738.17 97.27,736.41 97.72,734.60 98.16,732.73 98.61,730.80 99.05,728.82 99.50,726.77 99.94,724.67 100.38,722.50 100.83,720.28 101.28,717.99 101.72,715.64 102.16,713.23 102.61,710.75 103.06,708.21 103.50,705.61 103.94,702.94 104.39,700.20 104.83,697.40 105.28,694.53 105.43,693.51 105.43,693.51 105.72,696.03 106.17,699.84 106.61,703.58 107.06,707.26 107.50,710.86 107.95,714.38 108.40,717.84 108.84,721.23 109.28,724.54 109.73,727.78 110.18,730.94 110.62,734.03 111.06,737.04 111.51,739.98 111.95,742.84 112.40,745.62 112.84,748.33 113.29,750.95 113.73,753.50 114.18,755.97 114.62,758.35 115.07,760.66 115.52,762.88 115.96,765.02 116.41,767.08 116.61,768.00 116.85,766.95 117.30,765.06 117.74,763.26 118.19,761.54 118.63,759.91 119.07,758.36 119.52,756.90 119.97,755.53 120.41,754.25 120.85,753.06 121.30,751.96 121.74,750.95 122.19,750.03 122.63,749.20 123.08,748.46 123.52,747.82 123.97,747.27 124.42,746.81 124.86,746.45 125.30,746.19 125.75,746.02 126.19,745.95 126.64,745.98 127.08,746.10 127.53,746.32 127.97,746.64 128.42,747.06 128.87,747.59 129.31,748.21 129.75,748.93 130.20,749.76 130.64,750.69 131.09,751.72 131.53,752.86 131.98,754.10 132.42,755.44 132.87,756.89 133.31,758.45 133.76,760.12 134.20,761.89 134.65,763.77 135.09,765.76 135.54,767.86 135.57,768.00 135.98,765.93 136.43,763.61 136.88,761.18 137.32,758.63 137.76,755.98 138.21,753.21 138.65,750.33 139.10,747.33 139.54,744.22 139.99,741.00 140.44,737.65 140.88,734.19 141.32,730.62 141.77,726.93 142.22,723.11 142.66,719.18 143.11,715.13 143.55,710.96 144.00,706.67 144.44,702.26 144.88,697.73 145.33,693.07 145.77,688.29 146.22,683.39 146.66,678.37 147.11,673.21 147.56,667.94 148.00,662.54 148.44,657.01 148.89,651.35 149.33,645.57 149.78,639.66 150.22,633.62 150.67,627.45 151.11,621.15 151.56,614.72 151.87,610.18 151.87,610.18 152.00,612.50 152.45,620.04 152.89,627.45 153.34,634.72 153.78,641.87 154.23,648.88 154.67,655.75 155.12,662.49 155.56,669.10 156.01,675.57 156.46,681.90 156.90,688.10 157.34,694.15 157.79,700.07 158.23,705.85 158.68,711.50 159.12,717.00 159.57,722.36 160.01,727.58 160.46,732.66 160.90,737.60 161.35,742.39 161.80,747.04 162.24,751.55 162.69,755.91 163.13,760.13 163.57,764.20 164.00,768.00 164.02,767.87 164.46,764.09 164.91,760.45 165.35,756.97 165.80,753.63 166.25,750.44 166.69,747.40 167.13,744.51 167.58,741.77 168.02,739.18 168.47,736.74 168.91,734.45 169.36,732.32 169.81,730.33 170.25,728.50 170.69,726.83 171.14,725.31 171.58,723.94 172.03,722.73 172.47,721.68 172.92,720.78 173.37,720.04 173.81,719.46 174.25,719.03 174.70,718.76 175.14,718.66 175.59,718.71 176.03,718.92 176.48,719.29 176.93,719.83 177.37,720.52 177.81,721.38 178.26,722.40 178.70,723.58 179.15,724.93 179.59,726.44 180.04,728.11 180.49,729.96 180.93,731.96 181.38,734.13 181.82,736.47 182.26,738.98 182.71,741.65 183.15,744.50 183.60,747.51 184.04,750.69 184.49,754.03 184.94,757.55 185.38,761.24 185.82,765.10 186.15,768.00 186.27,766.86 186.71,762.66 187.16,758.28 187.60,753.73 188.05,749.01 188.50,744.11 188.94,739.04 189.38,733.79 189.83,728.37 190.28,722.77 190.72,716.99 191.16,711.04 191.61,704.91 192.06,698.61 192.50,692.12 192.94,685.46 193.39,678.62 193.83,671.59 194.28,664.39 194.72,657.01 195.17,649.44 195.61,641.70 196.06,633.77 196.50,625.66 196.95,617.37 197.39,608.89 197.84,600.23 198.28,591.39 198.30,591.00 198.30,591.00 198.73,600.58 199.17,610.42 199.62,620.07 200.06,629.54 200.51,638.82 200.95,647.91 201.40,656.82 201.84,665.54 202.29,674.07 202.73,682.41 203.18,690.56 203.62,698.52 204.07,706.29 204.51,713.87 204.96,721.26 205.41,728.46 205.85,735.47 206.29,742.29 206.74,748.91 207.18,755.34 207.63,761.58 208.07,767.62 208.10,768.00 208.52,762.53 208.96,756.88 209.41,751.42 209.85,746.16 210.30,741.09 210.74,736.22 211.19,731.55 211.63,727.07 212.08,722.79 212.53,718.71 212.97,714.83 213.41,711.15 213.86,707.67 214.30,704.38 214.75,701.30 215.19,698.41 215.64,695.73 216.08,693.25 216.53,690.97 216.97,688.89 217.42,687.02 217.86,685.35 218.31,683.88 218.75,682.61 219.20,681.55 219.64,680.70 220.09,680.04 220.53,679.60 220.98,679.36 221.43,679.32 221.87,679.49 222.31,679.87 222.76,680.46 223.21,681.25 223.65,682.25 224.09,683.46 224.54,684.88 224.98,686.51 225.43,688.34 225.88,690.39 226.32,692.64 226.76,695.11 227.21,697.79 227.65,700.68 228.10,703.78 228.54,707.09 228.99,710.62 229.43,714.35 229.88,718.30 230.33,722.47 230.77,726.85 231.22,731.44 231.66,736.24 232.10,741.27 232.55,746.50 233.00,751.95 233.44,757.62 233.88,763.50 234.21,768.00 234.33,766.39 234.78,760.08 235.22,753.54 235.66,746.79 236.11,739.82 236.55,732.63 237.00,725.23 237.44,717.60 237.89,709.76 238.33,701.69 238.78,693.41 239.22,684.90 239.67,676.18 240.12,667.23 240.56,658.07 241.00,648.68 241.45,639.07 241.90,629.24 242.34,619.18 242.78,608.91 243.23,598.41 243.67,587.68 244.12,576.73 244.56,565.56 244.74,561.13 244.74,561.13 245.01,568.45 245.45,580.29 245.90,591.91 246.34,603.30 246.79,614.46 247.23,625.40 247.68,636.12 248.12,646.60 248.57,656.87 249.02,666.90 249.46,676.71 249.91,686.28 250.35,695.64 250.79,704.76 251.24,713.65 251.69,722.32 252.13,730.76 252.57,738.96 253.02,746.94 253.46,754.69 253.91,762.21 254.26,768.00 254.35,766.50 254.80,759.45 255.24,752.62 255.69,746.02 256.13,739.66 256.58,733.53 257.02,727.63 257.47,721.96 257.91,716.52 258.36,711.32 258.81,706.35 259.25,701.61 259.69,697.11 260.14,692.84 260.58,688.81 261.03,685.01 261.48,681.44 261.92,678.11 262.37,675.01 262.81,672.15 263.25,669.52 263.70,667.13 264.14,664.98 264.59,663.06 265.03,661.38 265.48,659.93 265.92,658.72 266.37,657.75 266.81,657.02 267.26,656.52 267.70,656.26 268.15,656.24 268.60,656.46 269.04,656.92 269.49,657.61 269.93,658.54 270.38,659.72 270.82,661.13 271.26,662.78 271.71,664.67 272.15,666.80 272.60,669.18 273.04,671.79 273.49,674.64 273.93,677.73 274.38,681.07 274.82,684.64 275.27,688.46 275.71,692.52 276.16,696.82 276.60,701.36 277.05,706.14 277.50,711.17 277.94,716.44 278.38,721.95 278.83,727.71 279.27,733.70 279.72,739.95 280.16,746.43 280.61,753.16 281.05,760.13 281.50,767.35 281.54,768.00 281.94,761.19 282.39,753.49 282.83,745.54 283.28,737.35 283.72,728.91 284.17,720.23 284.62,711.30 285.06,702.13 285.50,692.71 285.95,683.04 286.39,673.13 286.84,662.98 287.29,652.57 287.73,641.93 288.17,631.03 288.62,619.89 289.06,608.50 289.51,596.87 289.95,584.99 290.40,572.86 290.84,560.48 291.17,551.18 291.17,551.18 291.29,554.55 291.74,567.33 292.18,579.87 292.62,592.16 293.07,604.20 293.51,615.99 293.96,627.53 294.40,638.83 294.85,649.87 295.29,660.67 295.74,671.22 296.18,681.52 296.63,691.58 297.08,701.38 297.52,710.93 297.96,720.24 298.41,729.29 298.85,738.10 299.30,746.66 299.75,754.96 300.19,763.02 300.47,768.00 300.63,765.17 301.08,757.61 301.52,750.31 301.97,743.25 302.41,736.44 302.86,729.89 303.30,723.58 303.75,717.52 304.19,711.72 304.64,706.16 305.08,700.86 305.53,695.80 305.97,691.00 306.42,686.45 306.87,682.15 307.31,678.10 307.75,674.30 308.20,670.76 308.64,667.46 309.09,664.42 309.53,661.63 309.98,659.08 310.42,656.80 310.87,654.76 311.31,652.97 311.76,651.44 312.20,650.16 312.65,649.13 313.10,648.35 313.54,647.82 313.99,647.55 314.43,647.52 314.87,647.75 315.32,648.24 315.76,648.97 316.21,649.96 316.65,651.20 317.10,652.69 317.54,654.43 317.99,656.43 318.44,658.68 318.88,661.18 319.32,663.93 319.77,666.94 320.21,670.20 320.66,673.71 321.10,677.47 321.55,681.49 321.99,685.76 322.44,690.28 322.88,695.06 323.33,700.08 323.77,705.36 324.22,710.90 324.66,716.68 325.11,722.72 325.56,729.01 326.00,735.55 326.44,742.35 326.89,749.40 327.33,756.70 327.78,764.26 328.00,768.00 328.22,763.94 328.67,755.88 329.11,747.56 329.56,739.00 330.00,730.18 330.45,721.11 330.89,711.79 331.34,702.21 331.78,692.38 332.23,682.30 332.67,671.97 333.12,661.38 333.56,650.54 334.01,639.45 334.45,628.11 334.90,616.51 335.35,604.66 335.79,592.56 336.23,580.21 336.68,567.60 337.12,554.74 337.57,541.63 337.61,540.48 337.61,540.48 338.01,552.75 338.46,565.94 338.90,578.87 339.35,591.56 339.79,604.00 340.24,616.18 340.68,628.11 341.13,639.79 341.57,651.22 342.02,662.39 342.46,673.32 342.91,683.99 343.35,694.41 343.80,704.58 344.24,714.50 344.69,724.17 345.13,733.58 345.58,742.75 346.02,751.66 346.47,760.32 346.88,768.00 346.92,767.26 347.36,759.10 347.81,751.19 348.25,743.53 348.69,736.12 349.14,728.97 349.59,722.06 350.03,715.40 350.47,708.99 350.92,702.83 351.37,696.93 351.81,691.27 352.25,685.86 352.70,680.70 353.14,675.79 353.59,671.14 354.03,666.73 354.48,662.57 354.93,658.66 355.37,654.99 355.81,651.58 356.26,648.42 356.70,645.50 357.15,642.83 357.59,640.42 358.04,638.25 358.48,636.33 358.93,634.65 359.38,633.23 359.82,632.05 360.26,631.12 360.71,630.44 361.16,630.00 361.60,629.82 362.04,629.88 362.49,630.18 362.94,630.74 363.38,631.54 363.82,632.58 364.27,633.88 364.71,635.42 365.16,637.20 365.60,639.24 366.05,641.52 366.50,644.04 366.94,646.81 367.38,649.82 367.83,653.09 368.27,656.59 368.72,660.34 369.17,664.34 369.61,668.58 370.05,673.06 370.50,677.79 370.94,682.76 371.39,687.98 371.83,693.44 372.28,699.14 372.72,705.09 373.17,711.28 373.61,717.72 374.06,724.39 374.50,731.31 374.95,738.48 375.39,745.88 375.84,753.53 376.28,761.42 376.65,768.00 376.73,766.45 377.18,758.08 377.62,749.47 378.06,740.61 378.51,731.52 378.95,722.18 379.40,712.61 379.84,702.79 380.29,692.73 380.74,682.44 381.18,671.90 381.62,661.12 382.07,650.11 382.51,638.85 382.96,627.36 383.40,615.62 383.85,603.65 384.04,598.37 384.04,598.38 384.29,605.22 384.74,617.15 385.18,628.85 385.63,640.30 386.07,651.52 386.52,662.50 386.96,673.24 387.41,683.75 387.85,694.02 388.30,704.06 388.75,713.85 389.19,723.42 389.63,732.74 390.08,741.84 390.52,750.69 390.97,759.32 391.41,767.70 391.43,768.00 391.86,760.14 392.31,752.22 392.75,744.54 393.19,737.08 393.64,729.86 394.08,722.88 394.53,716.13 394.97,709.60 395.42,703.32 395.86,697.26 396.31,691.43 396.75,685.84 397.20,680.48 397.64,675.35 398.09,670.44 398.53,665.77 398.98,661.33 399.42,657.12 399.87,653.14 400.31,649.39 400.76,645.87 401.20,642.57 401.65,639.51 402.09,636.67 402.54,634.06 402.98,631.68 403.43,629.52 403.87,627.59 404.32,625.89 404.76,624.42 405.21,623.17 405.65,622.14 406.10,621.34 406.55,620.77 406.99,620.42 407.43,620.30 407.88,620.40 408.32,620.73 408.77,621.28 409.21,622.05 409.66,623.04 410.11,624.26 410.55,625.70 410.99,627.36 411.44,629.25 411.88,631.35 412.33,633.68 412.77,636.23 413.22,639.00 413.66,641.98 414.11,645.19 414.55,648.62 415.00,652.27 415.44,656.13 415.89,660.22 416.34,664.52 416.78,669.04 417.22,673.78 417.67,678.73 418.11,683.91 418.56,689.30 419.00,694.90 419.45,700.72 419.90,706.76 420.34,713.01 420.78,719.47 421.23,726.15 421.67,733.05 422.12,740.16 422.56,747.48 423.01,755.01 423.45,762.76 423.75,768.00 423.90,765.28 424.34,757.11 424.79,748.72 425.24,740.13 425.68,731.32 426.12,722.31 426.57,713.08 427.01,703.65 427.46,694.00 427.90,684.15 428.35,674.08 428.80,663.81 429.24,653.33 429.69,642.65 430.13,631.75 430.48,623.08 430.48,623.08 430.57,625.22 431.02,634.91 431.46,644.40 431.91,653.68 432.35,662.76 432.80,671.63 433.24,680.30 433.69,688.77 434.14,697.03 434.58,705.09 435.02,712.94 435.47,720.59 435.92,728.04 436.36,735.29 436.80,742.34 437.25,749.19 437.69,755.83 438.14,762.28 438.55,768.00 438.58,767.48 439.03,761.43 439.48,755.58 439.92,749.93 440.36,744.48 440.81,739.23 441.25,734.17 441.70,729.31 442.14,724.65 442.59,720.18 443.03,715.91 443.48,711.84 443.93,707.95 444.37,704.27 444.81,700.77 445.26,697.47 445.70,694.37 446.15,691.45 446.59,688.73 447.04,686.20 447.48,683.86 447.93,681.71 448.38,679.76 448.82,677.99 449.26,676.41 449.71,675.02 450.15,673.82 450.60,672.81 451.04,671.99 451.49,671.35 451.93,670.90 452.38,670.64 452.82,670.56 453.27,670.67 453.72,670.96 454.16,671.44 454.60,672.10 455.05,672.95 455.50,673.98 455.94,675.19 456.38,676.58 456.83,678.16 457.27,679.92 457.72,681.86 458.16,683.98 458.61,686.28 459.06,688.76 459.50,691.42 459.94,694.25 460.39,697.27 460.83,700.46 461.28,703.83 461.72,707.38 462.17,711.11 462.62,715.01 463.06,719.08 463.50,723.33 463.95,727.76 464.39,732.35 464.84,737.13 465.28,742.07 465.73,747.19 466.17,752.48 466.62,757.94 467.06,763.57 467.41,768.00 467.51,766.62 467.95,760.65 468.40,754.51 468.84,748.20 469.29,741.72 469.73,735.07 470.18,728.25 470.62,721.27 471.07,714.12 471.51,706.80 471.96,699.32 472.40,691.67 472.85,683.86 473.30,675.89 473.74,667.75 474.18,659.45 474.63,650.98 475.07,642.35 475.52,633.56 475.96,624.61 476.41,615.50 476.86,606.23 476.91,605.01 476.91,605.01 477.30,611.67 477.74,619.17 478.19,626.51 478.63,633.70 479.08,640.73 479.52,647.60 479.97,654.31 480.41,660.87 480.86,667.27 481.30,673.52 481.75,679.62 482.19,685.56 482.64,691.34 483.08,696.98 483.53,702.46 483.97,707.79 484.42,712.97 484.86,718.00 485.31,722.87 485.75,727.60 486.20,732.18 486.65,736.61 487.09,740.90 487.53,745.03 487.98,749.02 488.42,752.86 488.87,756.56 489.31,760.11 489.76,763.51 490.20,766.78 490.38,768.00 490.65,766.11 491.09,763.13 491.54,760.30 491.98,757.61 492.43,755.06 492.88,752.65 493.32,750.39 493.76,748.26 494.21,746.27 494.65,744.42 495.10,742.71 495.54,741.14 495.99,739.70 496.44,738.40 496.88,737.24 497.32,736.21 497.77,735.31 498.21,734.55 498.66,733.93 499.10,733.44 499.55,733.08 499.99,732.85 500.44,732.75 500.89,732.79 501.33,732.95 501.77,733.25 502.22,733.67 502.67,734.22 503.11,734.90 503.55,735.71 504.00,736.65 504.44,737.71 504.89,738.90 505.33,740.21 505.78,741.65 506.23,743.21 506.67,744.89 507.11,746.70 507.56,748.63 508.00,750.68 508.45,752.86 508.89,755.15 509.34,757.56 509.78,760.10 510.23,762.75 510.68,765.52 511.06,768.00 511.12,767.59 511.56,764.59 512.01,761.47 512.45,758.23 512.90,754.88 513.34,751.41 513.79,747.83 514.23,744.13 514.68,740.32 515.12,736.40 515.57,732.37 516.01,728.23 516.46,723.97 516.90,719.61 517.35,715.14 517.79,710.55 518.24,705.86 518.68,701.07 519.13,696.16 519.57,691.15 520.02,686.03 520.47,680.81 520.91,675.48 521.36,670.05 521.80,664.52 522.25,658.88 522.69,653.14 523.13,647.30 523.35,644.47 523.35,644.47 523.58,646.95 524.02,651.64 524.47,656.22 524.91,660.71 525.36,665.10 525.81,669.39 526.25,673.58 526.69,677.68 527.14,681.68 527.59,685.58 528.03,689.39 528.47,693.11 528.92,696.73 529.37,700.26 529.81,703.69 530.25,707.04 530.70,710.29 531.14,713.45 531.59,716.52 532.03,719.51 532.48,722.40 532.92,725.21 533.37,727.93 533.81,730.56 534.26,733.11 534.70,735.57 535.15,737.94 535.60,740.23 536.04,742.44 536.48,744.56 536.93,746.61 537.38,748.56 537.82,750.44 538.26,752.24 538.71,753.96 539.15,755.60 539.60,757.16 540.05,758.64 540.49,760.04 540.93,761.37 541.38,762.62 541.83,763.80 542.27,764.90 542.71,765.92 543.16,766.88 543.61,767.76 543.74,768.00 544.05,767.44 544.49,766.70 544.94,766.04 545.38,765.44 545.83,764.92 546.27,764.46 546.72,764.08 547.16,763.76 547.61,763.51 548.05,763.33 548.50,763.21 548.94,763.16 549.39,763.17 549.84,763.24 550.28,763.38 550.72,763.59 551.17,763.85 551.62,764.18 552.06,764.57 552.50,765.01 552.95,765.52 553.39,766.09 553.84,766.71 554.28,767.39 554.65,768.00 554.73,767.87 555.17,767.07 555.62,766.22 556.06,765.31 556.51,764.35 556.95,763.34 557.40,762.27 557.85,761.15 558.29,759.97 558.73,758.75 559.18,757.47 559.62,756.15 560.07,754.78 560.51,753.35 560.96,751.88 561.40,750.36 561.85,748.80 562.29,747.19 562.74,745.53 563.18,743.83 563.63,742.09 564.07,740.30 564.52,738.47 564.96,736.59 565.41,734.68 565.85,732.72 566.30,730.73 566.74,728.69 567.19,726.62 567.63,724.51 568.08,722.36 568.52,720.17 568.97,717.95 569.41,715.69 569.78,713.79 569.78,713.79 569.86,714.01 570.30,715.26 570.75,716.47 571.19,717.65 571.64,718.79 572.08,719.90 572.53,720.99 572.98,722.04 573.42,723.06 573.86,724.05 574.31,725.02 574.75,725.96 575.20,726.87 575.64,727.75 576.09,728.61 576.53,729.44 576.98,730.25 577.43,731.03 577.87,731.80 578.31,732.54 578.76,733.25 579.21,733.95 579.65,734.62 580.09,735.28 580.54,735.92 580.98,736.53 581.43,737.14 581.88,737.72 582.32,738.28 582.76,738.84 583.21,739.37 583.65,739.89 584.10,740.40 584.54,740.89 584.99,741.37 585.43,741.84 585.88,742.30 586.32,742.75 586.77,743.19 587.22,743.61 587.66,744.03 588.10,744.45 588.55,744.85 589.00,745.25 589.44,745.64 589.88,746.03 590.33,746.41 590.77,746.79 591.22,747.16 591.66,747.53 592.11,747.90 592.55,748.27 593.00,748.64 593.44,749.01 593.89,749.38 594.33,749.75 594.78,750.12 595.22,750.49 595.67,750.87 596.12,751.25 596.56,751.64 597.00,752.03 597.45,752.43 597.89,752.84 598.34,753.25 598.78,753.67 599.23,754.10 599.67,754.53 600.12,754.98 600.56,755.44 601.01,755.91 601.45,756.39 601.90,756.88 602.35,757.39 602.79,757.91 603.23,758.45 603.68,759.00 604.12,759.56 604.57,760.15 605.01,760.75 605.46,761.36 605.90,762.00 606.35,762.66 606.79,763.33 607.24,764.03 607.68,764.75 608.13,765.48 608.57,766.25 609.02,767.03 609.46,767.84 609.55,768.00 609.91,767.33 610.35,766.47 610.80,765.59 611.25,764.68 611.69,763.74 612.13,762.77 612.58,761.78 613.02,760.76 613.47,759.71 613.91,758.62 614.36,757.51 614.80,756.36 615.25,755.19 615.69,753.98 616.14,752.73 616.22,752.51 616.22,752.51 616.59,754.40 617.03,756.65 617.47,758.87 617.92,761.05 618.37,763.19 618.81,765.30 619.25,767.36 619.39,768.00 619.70,766.61 620.14,764.62 620.59,762.67 621.03,760.76 621.48,758.90 621.92,757.07 622.37,755.29 622.81,753.55 623.26,751.86 623.70,750.21 624.15,748.61 624.59,747.05 625.04,745.54 625.49,744.08 625.93,742.66 626.38,741.29 626.82,739.98 627.26,738.71 627.71,737.49 628.15,736.32 628.60,735.21 629.04,734.15 629.49,733.14 629.93,732.19 630.38,731.29 630.82,730.44 631.27,729.65 631.71,728.92 632.16,728.25 632.60,727.63 633.05,727.07 633.49,726.57 633.94,726.13 634.38,725.75 634.83,725.43 635.27,725.17 635.72,724.98 636.16,724.84 636.61,724.77 637.05,724.77 637.50,724.83 637.94,724.95 638.39,725.14 638.83,725.40 639.28,725.73 639.73,726.12 640.17,726.58 640.61,727.11 641.06,727.71 641.50,728.38 641.95,729.13 642.39,729.94 642.84,730.83 643.28,731.79 643.73,732.82 644.17,733.93 644.62,735.11 645.07,736.37 645.51,737.70 645.95,739.11 646.40,740.60 646.84,742.17 647.29,743.82 647.73,745.54 648.18,747.35 648.62,749.23 649.07,751.20 649.51,753.25 649.96,755.38 650.40,757.59 650.85,759.89 651.29,762.27 651.74,764.74 652.18,767.29 652.31,768.00 652.63,766.07 653.07,763.34 653.52,760.53 653.96,757.63 654.41,754.64 654.86,751.56 655.30,748.39 655.75,745.13 656.19,741.78 656.63,738.33 657.08,734.80 657.52,731.17 657.97,727.45 658.41,723.63 658.86,719.72 659.30,715.71 659.75,711.61 660.19,707.41 660.64,703.11 661.08,698.72 661.53,694.22 661.97,689.63 662.42,684.94 662.65,682.45 662.65,682.45 662.87,685.18 663.31,690.82 663.75,696.35 664.20,701.78 664.64,707.11 665.09,712.34 665.53,717.46 665.98,722.48 666.42,727.39 666.87,732.20 667.31,736.90 667.76,741.49 668.21,745.98 668.65,750.36 669.10,754.62 669.54,758.78 669.98,762.83 670.43,766.77 670.57,768.00 670.87,765.40 671.32,761.69 671.76,758.08 672.21,754.59 672.65,751.22 673.10,747.95 673.54,744.81 673.99,741.77 674.44,738.86 674.88,736.06 675.32,733.37 675.77,730.81 676.21,728.36 676.66,726.03 677.10,723.83 677.55,721.74 678.00,719.77 678.44,717.92 678.88,716.20 679.33,714.59 679.77,713.11 680.22,711.76 680.66,710.53 681.11,709.42 681.55,708.43 682.00,707.58 682.44,706.85 682.89,706.24 683.33,705.77 683.78,705.42 684.23,705.20 684.67,705.11 685.12,705.15 685.56,705.32 686.00,705.62 686.45,706.06 686.89,706.62 687.34,707.32 687.78,708.15 688.23,709.11 688.67,710.21 689.12,711.44 689.56,712.81 690.01,714.32 690.46,715.96 690.90,717.74 691.34,719.65 691.79,721.71 692.24,723.90 692.68,726.23 693.12,728.71 693.57,731.32 694.01,734.07 694.46,736.97 694.90,740.01 695.35,743.19 695.79,746.51 696.24,749.97 696.68,753.59 697.13,757.34 697.58,761.24 698.02,765.29 698.31,768.00 698.46,766.52 698.91,762.18 699.35,757.69 699.80,753.05 700.25,748.27 700.69,743.34 701.13,738.25 701.58,733.02 702.02,727.64 702.47,722.10 702.91,716.41 703.36,710.58 703.80,704.58 704.25,698.44 704.69,692.14 705.14,685.69 705.58,679.08 706.03,672.31 706.47,665.39 706.92,658.32 707.37,651.08 707.81,643.69 708.25,636.14 708.70,628.44 709.09,621.61 709.09,621.61 709.14,622.74 709.59,631.33 710.03,639.76 710.48,648.02 710.92,656.13 711.37,664.07 711.81,671.86 712.26,679.48 712.70,686.94 713.15,694.23 713.60,701.36 714.04,708.32 714.48,715.12 714.93,721.76 715.38,728.23 715.82,734.53 716.26,740.66 716.71,746.63 717.15,752.43 717.60,758.05 718.04,763.52 718.42,768.00 718.49,767.19 718.93,762.07 719.38,757.12 719.82,752.34 720.27,747.74 720.72,743.30 721.16,739.04 721.60,734.95 722.05,731.03 722.49,727.29 722.94,723.72 723.38,720.33 723.83,717.11 724.27,714.07 724.72,711.20 725.16,708.51 725.61,706.00 726.05,703.67 726.50,701.51 726.94,699.53 727.39,697.74 727.83,696.12 728.28,694.68 728.72,693.42 729.17,692.35 729.62,691.45 730.06,690.74 730.50,690.21 730.95,689.86 731.39,689.70 731.84,689.72 732.28,689.92 732.73,690.31 733.17,690.88 733.62,691.64 734.06,692.59 734.51,693.72 734.95,695.04 735.40,696.54 735.84,698.24 736.29,700.12 736.74,702.19 737.18,704.45 737.62,706.90 738.07,709.54 738.51,712.37 738.96,715.39 739.41,718.60 739.85,722.01 740.29,725.60 740.74,729.39 741.18,733.38 741.63,737.55 742.07,741.92 742.52,746.48 742.97,751.24 743.41,756.20 743.85,761.34 744.30,766.69 744.41,768.00 744.74,763.77 745.19,758.03 745.63,752.10 746.08,745.96 746.52,739.63 746.97,733.10 747.41,726.37 747.86,719.44 748.30,712.32 748.75,704.99 749.20,697.46 749.64,689.73 750.09,681.80 750.53,673.67 750.97,665.33 751.42,656.80 751.86,648.06 752.31,639.12 752.75,629.97 753.20,620.62 753.64,611.06 754.09,601.30 754.53,591.34 754.98,581.17 755.42,570.79 755.52,568.51 755.52,568.51 755.87,577.30 756.32,588.35 756.76,599.20 757.21,609.84 757.65,620.27 758.09,630.49 758.54,640.50 758.99,650.31 759.43,659.90 759.88,669.29 760.32,678.46 760.76,687.43 761.21,696.18 761.65,704.72 762.10,713.05 762.54,721.17 762.99,729.08 763.43,736.77 763.88,744.25 764.32,751.52 764.77,758.58 765.21,765.41 765.39,768.00 765.66,763.96 766.11,757.55 766.55,751.35 767.00,745.37 767.44,739.61 767.88,734.06 768.33,728.73 768.77,723.62 769.22,718.72 769.66,714.04 770.11,709.58 770.55,705.34 771.00,701.31 771.44,697.51 771.89,693.92 772.33,690.55 772.78,687.40 773.22,684.48 773.67,681.77 774.11,679.28 774.56,677.02 775.00,674.98 775.45,673.15 775.90,671.56 776.34,670.18 776.78,669.02 777.23,668.09 777.67,667.39 778.12,666.90 778.57,666.64 779.01,666.61 779.45,666.79 779.90,667.21 780.34,667.85 780.79,668.71 781.23,669.80 781.68,671.12 782.12,672.66 782.57,674.43 783.01,676.43 783.46,678.65 783.90,681.10 784.35,683.78 784.79,686.69 785.24,689.82 785.69,693.19 786.13,696.78 786.57,700.60 787.02,704.65 787.46,708.93 787.91,713.45 788.36,718.19 788.80,723.16 789.25,728.36 789.69,733.80 790.13,739.46 790.58,745.36 791.02,751.49 791.47,757.85 791.91,764.45 792.15,768.00 792.36,764.72 792.80,757.66 793.25,750.37 793.69,742.84 794.14,735.08 794.58,727.09 795.03,718.86 795.48,710.40 795.92,701.70 796.37,692.77 796.81,683.60 797.25,674.19 797.70,664.55 798.14,654.68 798.59,644.57 799.03,634.22 799.48,623.63 799.92,612.81 800.37,601.75 800.81,590.46 801.26,578.92 801.70,567.15 801.96,560.39 801.96,560.39 802.15,565.93 802.59,578.50 803.04,590.82 803.49,602.91 803.93,614.76 804.38,626.37 804.82,637.74 805.26,648.87 805.71,659.76 806.15,670.41 806.60,680.82 807.04,690.99 807.49,700.92 807.94,710.61 808.38,720.06 808.82,729.26 809.27,738.23 809.71,746.95 810.16,755.44 810.60,763.68 810.84,768.00 811.05,764.33 811.49,756.57 811.94,749.06 812.38,741.79 812.83,734.76 813.27,727.97 813.72,721.43 814.17,715.13 814.61,709.08 815.06,703.27 815.50,697.70 815.94,692.38 816.39,687.30 816.83,682.47 817.28,677.88 817.73,673.54 818.17,669.44 818.61,665.58 819.06,661.97 819.50,658.61 819.95,655.49 820.39,652.62 820.84,649.99 821.28,647.61 821.73,645.48 822.17,643.59 822.62,641.95 823.06,640.56 823.51,639.41 823.96,638.51 824.40,637.85 824.85,637.45 825.29,637.29 825.73,637.38 826.18,637.71 826.62,638.30 827.07,639.13 827.51,640.21 827.96,641.54 828.40,643.11 828.85,644.94 829.29,647.01 829.74,649.33 830.18,651.90 830.63,654.72 831.07,657.79 831.52,661.11 831.96,664.67 832.41,668.49 832.86,672.55 833.30,676.87 833.75,681.43 834.19,686.25 834.63,691.31 835.08,696.62 835.52,702.19 835.97,708.00 836.41,714.07 836.86,720.38 837.30,726.95 837.75,733.76 838.19,740.83 838.64,748.14 839.08,755.71 839.53,763.53 839.78,768.00 839.97,764.40 840.42,756.08 840.86,747.51 841.31,738.69 841.75,729.61 842.20,720.29 842.64,710.71 843.09,700.89 843.54,690.81 843.98,680.48 844.42,669.89 844.87,659.06 845.31,647.98 845.76,636.64 846.20,625.05 846.65,613.21 847.10,601.11 847.54,588.77 847.98,576.17 848.39,564.45 848.39,564.45 848.43,565.59 848.87,578.60 849.32,591.36 849.76,603.86 850.21,616.11 850.65,628.11 851.10,639.85 851.54,651.35 851.99,662.59 852.43,673.58 852.88,684.32 853.33,694.80 853.77,705.03 854.22,715.01 854.66,724.74 855.10,734.21 855.55,743.43 855.99,752.40 856.44,761.11 856.80,768.00 856.88,766.42 857.33,758.21 857.77,750.26 858.22,742.55 858.66,735.10 859.11,727.90 859.55,720.95 860.00,714.26 860.44,707.82 860.89,701.63 861.34,695.69 861.78,690.01 862.22,684.58 862.67,679.40 863.12,674.48 863.56,669.81 864.00,665.39 864.45,661.22 864.89,657.30 865.34,653.64 865.78,650.23 866.23,647.08 866.67,644.17 867.12,641.52 867.56,639.12 868.01,636.98 868.45,635.08 868.90,633.44 869.34,632.05 869.79,630.92 870.23,630.03 870.68,629.40 871.12,629.02 871.57,628.89 872.01,629.02 872.46,629.40 872.91,630.02 873.35,630.90 873.79,632.04 874.24,633.42 874.68,635.06 875.13,636.95 875.57,639.09 876.02,641.48 876.46,644.12 876.91,647.02 877.35,650.16 877.80,653.56 878.24,657.21 878.69,661.11 879.13,665.26 879.58,669.67 880.02,674.32 880.47,679.22 880.91,684.38 881.36,689.79 881.80,695.44 882.25,701.35 882.70,707.51 883.14,713.92 883.58,720.58 884.03,727.49 884.47,734.65 884.92,742.06 885.36,749.72 885.81,757.63 886.25,765.79 886.37,768.00 886.70,761.80 887.14,753.14 887.59,744.23 888.03,735.08 888.48,725.67 888.92,716.01 889.37,706.11 889.81,695.95 890.26,685.55 890.71,674.90 891.15,664.00 891.59,652.85 892.04,641.45 892.49,629.80 892.93,617.91 893.38,605.77 893.82,593.38 894.26,580.74 894.71,567.85 894.83,564.45 894.83,564.45 895.15,573.98 895.60,586.65 896.04,599.07 896.49,611.25 896.93,623.18 897.38,634.87 897.82,646.31 898.27,657.50 898.71,668.44 899.16,679.14 899.61,689.60 900.05,699.80 900.50,709.76 900.94,719.48 901.38,728.95 901.83,738.17 902.27,747.15 902.72,755.89 903.16,764.38 903.36,768.00 903.61,763.37 904.05,755.37 904.50,747.62 904.94,740.10 905.39,732.84 905.83,725.81 906.28,719.03 906.72,712.49 907.17,706.20 907.61,700.15 908.06,694.34 908.50,688.77 908.95,683.45 909.39,678.37 909.84,673.53 910.28,668.93 910.73,664.58 911.17,660.46 911.62,656.59 912.07,652.96 912.51,649.57 912.95,646.42 913.40,643.51 913.84,640.84 914.29,638.41 914.73,636.23 915.18,634.28 915.62,632.57 916.07,631.10 916.51,629.87 916.96,628.88 917.40,628.12 917.85,627.61 918.29,627.33 918.74,627.29 919.19,627.49 919.63,627.93 920.07,628.61 920.52,629.52 920.96,630.67 921.41,632.05 921.86,633.67 922.30,635.53 922.75,637.62 923.19,639.95 923.63,642.52 924.08,645.32 924.52,648.35 924.97,651.62 925.41,655.13 925.86,658.87 926.30,662.84 926.75,667.04 927.19,671.48 927.64,676.16 928.08,681.06 928.53,686.20 928.98,691.57 929.42,697.18 929.87,703.01 930.31,709.08 930.75,715.38 931.20,721.91 931.64,728.67 932.09,735.66 932.53,742.88 932.98,750.33 933.42,758.01 933.87,765.92 933.98,768.00 934.31,761.94 934.76,753.57 935.20,744.97 935.65,736.14 936.09,727.09 936.54,717.81 936.99,708.30 937.43,698.56 937.87,688.60 938.32,678.41 938.76,667.99 939.21,657.35 939.65,646.48 940.10,635.38 940.54,624.06 940.99,612.52 941.26,605.38 941.26,605.38 941.43,609.75 941.88,620.75 942.32,631.53 942.77,642.08 943.21,652.41 943.66,662.52 944.10,672.40 944.55,682.07 944.99,691.51 945.44,700.73 945.88,709.72 946.33,718.50 946.77,727.05 947.22,735.39 947.67,743.50 948.11,751.40 948.55,759.07 949.00,766.53 949.09,768.00 949.44,762.24 949.89,755.22 950.33,748.42 950.78,741.84 951.23,735.47 951.67,729.32 952.11,723.39 952.56,717.68 953.00,712.18 953.45,706.90 953.89,701.83 954.34,696.98 954.78,692.34 955.23,687.92 955.67,683.71 956.12,679.72 956.56,675.94 957.01,672.37 957.46,669.01 957.90,665.87 958.35,662.94 958.79,660.22 959.23,657.71 959.68,655.42 960.12,653.33 960.57,651.45 961.01,649.79 961.46,648.33 961.90,647.08 962.35,646.04 962.79,645.21 963.24,644.59 963.68,644.17 964.13,643.96 964.57,643.96 965.02,644.16 965.46,644.57 965.91,645.19 966.35,646.01 966.80,647.04 967.25,648.27 967.69,649.70 968.13,651.34 968.58,653.18 969.02,655.23 969.47,657.47 969.91,659.92 970.36,662.57 970.80,665.43 971.25,668.48 971.69,671.73 972.14,675.19 972.58,678.84 973.03,682.69 973.47,686.74 973.92,690.99 974.36,695.44 974.81,700.09 975.25,704.93 975.70,709.97 976.14,715.21 976.59,720.64 977.04,726.27 977.48,732.09 977.92,738.11 978.37,744.32 978.81,750.73 979.26,757.32 979.70,764.12 979.95,768.00 980.15,764.90 980.60,757.72 981.04,750.35 981.48,742.79 981.93,735.04 982.37,727.10 982.82,718.97 983.26,710.65 983.71,702.14 984.15,693.44 984.60,684.55 985.04,675.47 985.49,666.21 985.93,656.76 986.38,647.13 986.83,637.30 987.27,627.30 987.70,617.55 987.70,617.55 987.72,617.94 988.16,626.76 988.60,635.39 989.05,643.84 989.49,652.11 989.94,660.20 990.38,668.10 990.83,675.82 991.27,683.36 991.72,690.72 992.16,697.90 992.61,704.89 993.05,711.71 993.50,718.35 993.94,724.81 994.39,731.09 994.84,737.20 995.28,743.12 995.72,748.87 996.17,754.45 996.62,759.84 997.06,765.07 997.32,768.00 997.50,765.89 997.95,761.01 998.39,756.31 998.84,751.79 999.28,747.44 999.73,743.26 1000.17,739.25 1000.62,735.41 1001.06,731.75 1001.51,728.25 1001.95,724.93 1002.40,721.77 1002.84,718.79 1003.29,715.97 1003.73,713.32 1004.18,710.84 1004.62,708.53 1005.07,706.38 1005.51,704.40 1005.96,702.58 1006.40,700.93 1006.85,699.44 1007.29,698.12 1007.74,696.96 1008.18,695.97 1008.63,695.14 1009.07,694.46 1009.52,693.96 1009.96,693.61 1010.41,693.42 1010.85,693.39 1011.30,693.53 1011.74,693.82 1012.19,694.27 1012.63,694.88 1013.08,695.64 1013.52,696.56 1013.97,697.64 1014.41,698.88 1014.86,700.27 1015.30,701.81 1015.75,703.51 1016.20,705.37 1016.64,707.37 1017.08,709.53 1017.53,711.85 1017.97,714.31 1018.42,716.93 1018.86,719.69 1019.31,722.61 1019.75,725.67 1020.20,728.89 1020.64,732.25 1021.09,735.76 1021.53,739.42 1021.98,743.23 1022.42,747.18 1022.87,751.27 1023.31,755.52 1023.76,759.91 1024.20,764.44 1024.55,768.00 1024.65,766.89 1025.09,762.07 1025.54,757.11 1025.99,752.00 1026.43,746.76 1026.88,741.37 1027.32,735.84 1027.76,730.18 1028.21,724.37 1028.65,718.43 1029.10,712.34 1029.55,706.12 1029.99,699.77 1030.43,693.27 1030.88,686.64 1031.32,679.88 1031.77,672.98 1032.21,665.94 1032.66,658.77 1033.11,651.47 1033.55,644.04 1033.99,636.47 1034.13,634.14 1034.13,634.14 1034.44,638.45 1034.88,644.52 1035.33,650.47 1035.78,656.28 1036.22,661.97 1036.66,667.53 1037.11,672.96 1037.55,678.26 1038.00,683.43 1038.44,688.48 1038.89,693.40 1039.34,698.20 1039.78,702.87 1040.22,707.42 1040.67,711.85 1041.11,716.15 1041.56,720.33 1042.00,724.39 1042.45,728.33 1042.89,732.14 1043.34,735.84 1043.78,739.42 1044.23,742.87 1044.67,746.21 1045.12,749.44 1045.57,752.54 1046.01,755.53 1046.45,758.40 1046.90,761.16 1047.34,763.80 1047.79,766.33 1048.10,768.00 1048.23,767.25 1048.68,764.95 1049.12,762.76 1049.57,760.68 1050.01,758.72 1050.46,756.86 1050.90,755.11 1051.35,753.48 1051.80,751.95 1052.24,750.53 1052.68,749.22 1053.13,748.01 1053.57,746.92 1054.02,745.92 1054.46,745.03 1054.91,744.25 1055.36,743.57 1055.80,743.00 1056.24,742.52 1056.69,742.15 1057.13,741.88 1057.58,741.72 1058.02,741.65 1058.47,741.68 1058.91,741.81 1059.36,742.04 1059.80,742.37 1060.25,742.80 1060.69,743.32 1061.14,743.93 1061.59,744.65 1062.03,745.46 1062.47,746.36 1062.92,747.36 1063.36,748.44 1063.81,749.63 1064.25,750.90 1064.70,752.26 1065.14,753.72 1065.59,755.26 1066.03,756.90 1066.48,758.62 1066.92,760.43 1067.37,762.33 1067.81,764.32 1068.26,766.39 1068.59,768.00 1068.70,767.45 1069.15,765.21 1069.59,762.88 1070.04,760.47 1070.48,757.98 1070.93,755.40 1071.38,752.74 1071.82,750.00 1072.26,747.18 1072.71,744.28 1073.15,741.31 1073.60,738.25 1074.04,735.11 1074.49,731.90 1074.93,728.61 1075.38,725.24 1075.82,721.80 1076.27,718.28 1076.71,714.69 1077.16,711.02 1077.60,707.29 1078.05,703.48 1078.49,699.59 1078.94,695.64 1079.38,691.62 1079.83,687.52 1080.28,683.36 1080.57,680.61 1080.57,680.61 1080.72,681.70 1081.16,684.81 1081.61,687.86 1082.05,690.83 1082.50,693.75 1082.94,696.59 1083.39,699.37 1083.83,702.09 1084.28,704.74 1084.72,707.33 1085.17,709.86 1085.62,712.32 1086.06,714.73 1086.50,717.07 1086.95,719.36 1087.39,721.58 1087.84,723.75 1088.28,725.86 1088.73,727.92 1089.17,729.91 1089.62,731.85 1090.07,733.74 1090.51,735.57 1090.96,737.35 1091.40,739.07 1091.85,740.74 1092.29,742.36 1092.73,743.93 1093.18,745.45 1093.62,746.92 1094.07,748.34 1094.51,749.71 1094.96,751.03 1095.40,752.30 1095.85,753.53 1096.29,754.71 1096.74,755.85 1097.18,756.94 1097.63,757.99 1098.07,758.99 1098.52,759.95 1098.96,760.87 1099.41,761.75 1099.86,762.59 1100.30,763.38 1100.75,764.14 1101.19,764.86 1101.63,765.54 1102.08,766.18 1102.52,766.79 1102.97,767.36 1103.41,767.89 1103.51,768.00 1103.86,767.61 1104.31,767.15 1104.75,766.72 1105.19,766.32 1105.64,765.95 1106.08,765.62 1106.53,765.32 1106.97,765.04 1107.42,764.80 1107.87,764.59 1108.31,764.40 1108.75,764.24 1109.20,764.11 1109.64,764.01 1110.09,763.93 1110.54,763.88 1110.98,763.85 1111.42,763.85 1111.87,763.86 1112.31,763.90 1112.76,763.97 1113.20,764.05 1113.65,764.15 1114.10,764.28 1114.54,764.42 1114.98,764.58 1115.43,764.76 1115.87,764.96 1116.32,765.17 1116.76,765.40 1117.21,765.65 1117.65,765.91 1118.10,766.18 1118.54,766.46 1118.99,766.76 1119.43,767.07 1119.88,767.39 1120.33,767.73 1120.68,768.00 1120.77,767.93 1121.21,767.58 1121.66,767.22 1122.11,766.85 1122.55,766.48 1122.99,766.09 1123.44,765.71 1123.88,765.31 1124.33,764.92 1124.77,764.51 1125.22,764.11 1125.66,763.70 1126.11,763.29 1126.55,762.88 1127.00,762.47 1126.40,695.73"/>
</g>
<g stroke="#262626" stroke-width="1" fill="none" shape-rendering="crispEdges"><rect x="59.5" y="473.5" width="1068" height="295" fill="none"/><line x1="59.5" y1="768" x2="59.5" y2="758"/><line x1="59.5" y1="474" x2="59.5" y2="483"/><line x1="228.5" y1="768" x2="228.5" y2="758"/><line x1="228.5" y1="474" x2="228.5" y2="483"/><line x1="398.5" y1="768" x2="398.5" y2="758"/><line x1="398.5" y1="474" x2="398.5" y2="483"/><line x1="568.5" y1="768" x2="568.5" y2="758"/><line x1="568.5" y1="474" x2="568.5" y2="483"/><line x1="738.5" y1="768" x2="738.5" y2="758"/><line x1="738.5" y1="474" x2="738.5" y2="483"/><line x1="908.5" y1="768" x2="908.5" y2="758"/><line x1="908.5" y1="474" x2="908.5" y2="483"/><line x1="1078.5" y1="768" x2="1078.5" y2="758"/><line x1="1078.5" y1="474" x2="1078.5" y2="483"/><line x1="60" y1="473.5" x2="69" y2="473.5"/><line x1="1127" y1="473.5" x2="1117" y2="473.5"/><line x1="60" y1="510.5" x2="69" y2="510.5"/><line x1="1127" y1="510.5" x2="1117" y2="510.5"/><line x1="60" y1="547.5" x2="69" y2="547.5"/><line x1="1127" y1="547.5" x2="1117" y2="547.5"/><line x1="60" y1="584.5" x2="69" y2="584.5"/><line x1="1127" y1="584.5" x2="1117" y2="584.5"/><line x1="60" y1="621.5" x2="69" y2="621.5"/><line x1="1127" y1="621.5" x2="1117" y2="621.5"/><line x1="60" y1="657.5" x2="69" y2="657.5"/><line x1="1127" y1="657.5" x2="1117" y2="657.5"/><line x1="60" y1="694.5" x2="69" y2="694.5"/><line x1="1127" y1="694.5" x2="1117" y2="694.5"/><line x1="60" y1="731.5" x2="69" y2="731.5"/><line x1="1127" y1="731.5" x2="1117" y2="731.5"/><line x1="60" y1="768.5" x2="69" y2="768.5"/><line x1="1127" y1="768.5" x2="1117" y2="768.5"/></g>
<g font-size="10"><text x="60.3" y="781.8" text-anchor="middle">0</text><text x="229.3" y="781.8" text-anchor="middle">1</text><text x="399.3" y="781.8" text-anchor="middle">2</text><text x="569.3" y="781.8" text-anchor="middle">3</text><text x="739.3" y="781.8" text-anchor="middle">4</text><text x="909.3" y="781.8" text-anchor="middle">5</text><text x="1079.3" y="781.8" text-anchor="middle">6</text><text x="54.5" y="477.4" text-anchor="end">8</text><text x="54.5" y="514.4" text-anchor="end">7</text><text x="54.5" y="551.4" text-anchor="end">6</text><text x="54.5" y="588.4" text-anchor="end">5</text><text x="54.5" y="625.4" text-anchor="end">4</text><text x="54.5" y="661.4" text-anchor="end">3</text><text x="54.5" y="698.4" text-anchor="end">2</text><text x="54.5" y="735.4" text-anchor="end">1</text><text x="54.5" y="772.4" text-anchor="end">0</text></g>
<text x="59.3" y="470.6" font-size="10"><tspan font-size="9" style="fill:#4a4a4a">×</tspan><tspan dx="1.6" dy="0.4">10</tspan><tspan font-size="8.5" dx="0.6" dy="-4.9">-3</tspan></text>
<text x="593" y="796.9" text-anchor="middle" font-size="11">Input</text>
<text transform="translate(42.1,621.4) rotate(-90)" x="0" y="0" text-anchor="middle" font-size="11" textLength="28.6" lengthAdjust="spacing">Error</text>
<g font-size="11" font-weight="bold" style="fill:#000">
<text x="593" y="439.8" text-anchor="middle" style="fill:#000" textLength="203.5" lengthAdjust="spacing">Feasibility of Solution: Feasible</text>
<text x="593" y="454.1" text-anchor="middle" style="fill:#000" textLength="128.5" lengthAdjust="spacing">AbsTol = 0.0078125</text>
<text x="593" y="468" text-anchor="middle" style="fill:#000" textLength="125.5" lengthAdjust="spacing">RelTol = 0.0078125</text>
</g>
<rect x="59.5" y="414.5" width="303" height="41" fill="#ffffff" stroke="#262626" stroke-width="1" shape-rendering="crispEdges"/>
<line x1="63" y1="422.5" x2="94" y2="422.5" stroke="#FF0000" stroke-width="1" shape-rendering="crispEdges"/>
<line x1="63" y1="434.5" x2="94" y2="434.5" stroke="#A5C634" stroke-width="1" shape-rendering="crispEdges"/>
<rect x="63" y="442" width="31" height="9" fill="#CCEEE2"/>
<g font-size="9">
<text x="97" y="425.1" textLength="214.3" lengthAdjust="spacing">Absolute Error : abs(Original - Approximation)</text>
<text x="97" y="437" textLength="259.3" lengthAdjust="spacing">Max Error Allowed : max(abs(Original) * RelTol, AbsTol)</text>
<text x="97" y="449.8" textLength="257.5" lengthAdjust="spacing">Feasible Region : Absolute Error &lt;= Max Error Allowed</text>
</g>
</svg></body></html>
